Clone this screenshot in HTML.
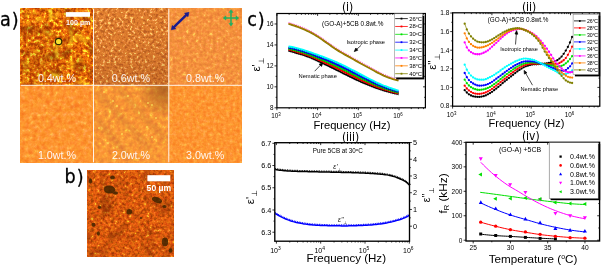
<!DOCTYPE html>
<html><head><meta charset="utf-8"><title>figure</title>
<style>html,body{margin:0;padding:0;background:#fff;}svg{display:block;}</style>
</head><body>
<svg width="602" height="267" viewBox="0 0 602 267">
<rect width="602" height="267" fill="#fff"/>
<defs>
<filter id="t1" x="0" y="0" width="100%" height="100%" color-interpolation-filters="sRGB">
<feTurbulence type="fractalNoise" baseFrequency="0.3" numOctaves="3" seed="3" result="n"/>
<feColorMatrix type="matrix" values="2.800 0 0 0 -0.940  2.184 0.616 0 0 -0.940  2.800 0 0 0 -0.940  0 0 0 0 1"/>
<feComponentTransfer><feFuncR type="table" tableValues="0.722 0.746 0.771 0.796 0.821 0.846 0.871 0.885 0.900 0.915 0.930 0.945 0.953 0.960 0.968 0.976 0.983 0.990 0.996 0.998 1.000"/><feFuncG type="table" tableValues="0.235 0.256 0.277 0.298 0.319 0.340 0.361 0.383 0.405 0.427 0.449 0.471 0.496 0.522 0.547 0.573 0.624 0.714 0.804 0.876 0.949"/><feFuncB type="table" tableValues="0.016 0.018 0.021 0.024 0.026 0.029 0.031 0.035 0.038 0.041 0.044 0.047 0.050 0.054 0.057 0.061 0.071 0.090 0.110 0.153 0.196"/></feComponentTransfer>
</filter>
<filter id="t2" x="0" y="0" width="100%" height="100%" color-interpolation-filters="sRGB">
<feTurbulence type="fractalNoise" baseFrequency="0.36" numOctaves="3" seed="7" result="n"/>
<feColorMatrix type="matrix" values="2.300 0 0 0 -0.650  2.070 0.230 0 0 -0.650  2.300 0 0 0 -0.650  0 0 0 0 1"/>
<feComponentTransfer><feFuncR type="table" tableValues="0.745 0.761 0.776 0.792 0.808 0.824 0.839 0.855 0.863 0.870 0.878 0.886 0.894 0.901 0.912 0.928 0.944 0.960 0.973 0.987 1.000"/><feFuncG type="table" tableValues="0.369 0.383 0.398 0.412 0.427 0.441 0.456 0.471 0.478 0.486 0.494 0.501 0.509 0.517 0.536 0.571 0.607 0.648 0.709 0.770 0.831"/><feFuncB type="table" tableValues="0.141 0.146 0.150 0.155 0.159 0.164 0.168 0.173 0.176 0.180 0.183 0.187 0.190 0.194 0.207 0.234 0.261 0.292 0.338 0.385 0.431"/></feComponentTransfer>
</filter>
<filter id="t3" x="0" y="0" width="100%" height="100%" color-interpolation-filters="sRGB">
<feTurbulence type="fractalNoise" baseFrequency="0.3" numOctaves="3" seed="11" result="n"/>
<feColorMatrix type="matrix" values="1.900 0 0 0 -0.450  1.235 0.665 0 0 -0.450  1.900 0 0 0 -0.450  0 0 0 0 1"/>
<feComponentTransfer><feFuncR type="table" tableValues="0.910 0.915 0.921 0.926 0.932 0.937 0.943 0.948 0.954 0.959 0.965 0.968 0.971 0.975 0.978 0.982 0.985 0.988 0.992 0.996 1.000"/><feFuncG type="table" tableValues="0.486 0.495 0.503 0.511 0.519 0.527 0.536 0.544 0.552 0.560 0.569 0.583 0.597 0.611 0.625 0.639 0.653 0.667 0.716 0.766 0.816"/><feFuncB type="table" tableValues="0.212 0.214 0.216 0.219 0.221 0.224 0.226 0.228 0.231 0.233 0.235 0.242 0.249 0.255 0.262 0.269 0.276 0.282 0.306 0.329 0.353"/></feComponentTransfer>
</filter>
<filter id="t4" x="0" y="0" width="100%" height="100%" color-interpolation-filters="sRGB">
<feTurbulence type="fractalNoise" baseFrequency="0.24" numOctaves="3" seed="5" result="n"/>
<feColorMatrix type="matrix" values="1.900 0 0 0 -0.450  1.235 0.665 0 0 -0.450  1.900 0 0 0 -0.450  0 0 0 0 1"/>
<feComponentTransfer><feFuncR type="table" tableValues="0.976 0.978 0.980 0.982 0.984 0.986 0.988 0.990 0.992 0.994 0.996 0.997 0.997 0.998 0.999 0.999 1.000 1.000 1.000 1.000 1.000"/><feFuncG type="table" tableValues="0.486 0.496 0.506 0.516 0.525 0.535 0.545 0.555 0.565 0.575 0.584 0.597 0.609 0.622 0.634 0.646 0.659 0.688 0.718 0.747 0.776"/><feFuncB type="table" tableValues="0.133 0.139 0.144 0.150 0.155 0.161 0.166 0.172 0.177 0.183 0.188 0.196 0.204 0.212 0.220 0.227 0.235 0.255 0.275 0.294 0.314"/></feComponentTransfer>
</filter>
<filter id="t5" x="0" y="0" width="100%" height="100%" color-interpolation-filters="sRGB">
<feTurbulence type="fractalNoise" baseFrequency="0.24" numOctaves="3" seed="9" result="n"/>
<feColorMatrix type="matrix" values="1.900 0 0 0 -0.450  1.235 0.665 0 0 -0.450  1.900 0 0 0 -0.450  0 0 0 0 1"/>
<feComponentTransfer><feFuncR type="table" tableValues="0.925 0.931 0.937 0.943 0.949 0.955 0.961 0.967 0.973 0.978 0.984 0.987 0.990 0.992 0.995 0.997 1.000 1.000 1.000 1.000 1.000"/><feFuncG type="table" tableValues="0.502 0.511 0.521 0.530 0.540 0.549 0.558 0.568 0.577 0.587 0.596 0.609 0.622 0.635 0.648 0.661 0.675 0.714 0.753 0.792 0.831"/><feFuncB type="table" tableValues="0.204 0.204 0.204 0.204 0.204 0.204 0.204 0.204 0.204 0.204 0.204 0.208 0.212 0.216 0.220 0.224 0.227 0.239 0.251 0.263 0.275"/></feComponentTransfer>
</filter>
<filter id="t6" x="0" y="0" width="100%" height="100%" color-interpolation-filters="sRGB">
<feTurbulence type="fractalNoise" baseFrequency="0.3" numOctaves="3" seed="13" result="n"/>
<feColorMatrix type="matrix" values="1.900 0 0 0 -0.450  1.235 0.665 0 0 -0.450  1.900 0 0 0 -0.450  0 0 0 0 1"/>
<feComponentTransfer><feFuncR type="table" tableValues="0.980 0.982 0.984 0.985 0.987 0.988 0.990 0.991 0.993 0.995 0.996 0.997 0.997 0.998 0.999 0.999 1.000 1.000 1.000 1.000 1.000"/><feFuncG type="table" tableValues="0.494 0.503 0.512 0.521 0.530 0.539 0.548 0.557 0.566 0.575 0.584 0.595 0.607 0.618 0.629 0.640 0.651 0.673 0.694 0.716 0.737"/><feFuncB type="table" tableValues="0.141 0.146 0.151 0.155 0.160 0.165 0.169 0.174 0.179 0.184 0.188 0.196 0.204 0.212 0.220 0.227 0.235 0.249 0.263 0.276 0.290"/></feComponentTransfer>
</filter>
<filter id="tb" x="0" y="0" width="100%" height="100%" color-interpolation-filters="sRGB">
<feTurbulence type="fractalNoise" baseFrequency="0.34" numOctaves="3" seed="21" result="n"/>
<feColorMatrix type="matrix" values="1.900 0 0 0 -0.450  1.330 0.570 0 0 -0.450  1.900 0 0 0 -0.450  0 0 0 0 1"/>
<feComponentTransfer><feFuncR type="table" tableValues="0.647 0.669 0.692 0.714 0.736 0.759 0.781 0.804 0.826 0.848 0.871 0.882 0.894 0.906 0.918 0.929 0.941 0.954 0.967 0.981 0.996"/><feFuncG type="table" tableValues="0.204 0.219 0.234 0.249 0.264 0.278 0.293 0.308 0.323 0.338 0.353 0.373 0.392 0.412 0.431 0.451 0.471 0.536 0.601 0.694 0.804"/><feFuncB type="table" tableValues="0.024 0.027 0.030 0.033 0.036 0.039 0.042 0.045 0.049 0.052 0.055 0.058 0.060 0.063 0.065 0.068 0.071 0.087 0.103 0.133 0.173"/></feComponentTransfer>
</filter>
<filter id="lf1" x="0" y="0" width="100%" height="100%" color-interpolation-filters="sRGB"><feTurbulence type="fractalNoise" baseFrequency="0.08" numOctaves="2" seed="5"/><feColorMatrix type="matrix" values="0 0 0 0 0.42  0 0 0 0 0.14  0 0 0 0 0  1.8 0 0 0 -0.92"/></filter>
<filter id="lf1y" x="0" y="0" width="100%" height="100%" color-interpolation-filters="sRGB"><feTurbulence type="fractalNoise" baseFrequency="0.09" numOctaves="2" seed="17"/><feColorMatrix type="matrix" values="0 0 0 0 1  0 0 0 0 0.78  0 0 0 0 0.1  0 2.6 0 0 -1.5"/></filter>
<filter id="lfb" x="0" y="0" width="100%" height="100%" color-interpolation-filters="sRGB"><feTurbulence type="fractalNoise" baseFrequency="0.07" numOctaves="2" seed="8"/><feColorMatrix type="matrix" values="0 0 0 0 0.4  0 0 0 0 0.12  0 0 0 0 0  1.4 0 0 0 -0.72"/></filter>
<filter id="bl1" x="-50%" y="-50%" width="200%" height="200%"><feGaussianBlur stdDeviation="0.9"/></filter>
<filter id="bl2" x="-50%" y="-50%" width="200%" height="200%"><feGaussianBlur stdDeviation="2.2"/></filter>
<filter id="bl05" x="-50%" y="-50%" width="200%" height="200%"><feGaussianBlur stdDeviation="0.5"/></filter>
<linearGradient id="g2" x1="0" y1="0" x2="0.25" y2="1"><stop offset="0" stop-color="#7a3410" stop-opacity="0"/><stop offset="0.5" stop-color="#7a3410" stop-opacity="0.03"/><stop offset="1" stop-color="#7a3410" stop-opacity="0.18"/></linearGradient>
<radialGradient id="g5" cx="0.93" cy="0.07" r="0.36"><stop offset="0" stop-color="#8a4a18" stop-opacity="0.6"/><stop offset="0.6" stop-color="#8a4a18" stop-opacity="0.25"/><stop offset="1" stop-color="#8a4a18" stop-opacity="0"/></radialGradient>
<radialGradient id="g1" cx="0.25" cy="0.7" r="0.5"><stop offset="0" stop-color="#6a2a00" stop-opacity="0.18"/><stop offset="1" stop-color="#6a2a00" stop-opacity="0"/></radialGradient>
<clipPath id="c1"><rect x="20.7" y="8.7" width="72.8" height="76.6"/></clipPath>
<clipPath id="c5"><rect x="93.5" y="85.3" width="75.3" height="77"/></clipPath>
<clipPath id="c4"><rect x="20.7" y="85.3" width="72.8" height="77"/></clipPath>
<clipPath id="cb"><rect x="87.2" y="170.7" width="86.8" height="86.2"/></clipPath>
</defs>
<rect x="20.7" y="8.7" width="72.8" height="76.6" fill="#e08020" filter="url(#t1)"/>
<rect x="93.5" y="8.7" width="75.3" height="76.6" fill="#e08020" filter="url(#t2)"/>
<rect x="168.8" y="8.7" width="73.1" height="76.6" fill="#e08020" filter="url(#t3)"/>
<rect x="20.7" y="85.3" width="72.8" height="77" fill="#e08020" filter="url(#t4)"/>
<rect x="93.5" y="85.3" width="75.3" height="77" fill="#e08020" filter="url(#t5)"/>
<rect x="168.8" y="85.3" width="73.1" height="77" fill="#e08020" filter="url(#t6)"/>
<g clip-path="url(#c1)">
<rect x="20.7" y="8.7" width="72.8" height="76.6" filter="url(#lf1)"/>
<rect x="20.7" y="8.7" width="72.8" height="76.6" filter="url(#lf1y)"/>
<rect x="20.7" y="8.7" width="72.8" height="76.6" fill="url(#g1)"/>
<g filter="url(#bl1)" fill="none" stroke="#ffe628" stroke-linecap="round" opacity="0.8">
<path d="M49.5 9 L51 14 L50 19" stroke-width="2.6"/>
<path d="M70.5 30 L71.8 36 L70.8 45" stroke-width="2.0"/>
<path d="M57.5 45 L56 52 L57 58" stroke-width="2.0"/>
<path d="M53 74.5 L57 76.5" stroke-width="3.4"/>
<path d="M27 22 L29.5 24 M36 50 L38 52 M80 58 L82 61 M44 31 L46 33 M33 12 L35 13 M62 66 L64 68 M84 40 L85.5 43 M25 70 L27 71" stroke-width="1.6"/>
</g></g>
<rect x="93.5" y="8.7" width="75.3" height="76.6" fill="url(#g2)"/>
<g clip-path="url(#c4)"><g filter="url(#bl1)" fill="#e86a20" opacity="0.6"><circle cx="40.3" cy="95.2" r="2.2"/><circle cx="72.2" cy="107" r="2"/><circle cx="57.5" cy="111" r="1.6"/></g></g>
<g clip-path="url(#c5)">
<g filter="url(#bl2)" stroke="#a86030" stroke-width="5" opacity="0.22" fill="none"><path d="M98 92 L150 150"/><path d="M118 88 L166 140"/><path d="M96 118 L128 156"/></g>
<rect x="93.5" y="85.3" width="75.3" height="77" fill="url(#g5)"/>
<g filter="url(#bl05)" fill="#fff060" opacity="0.75"><circle cx="113" cy="101" r="0.95"/><circle cx="117" cy="106" r="0.95"/><circle cx="148" cy="103" r="0.95"/><circle cx="152" cy="105" r="0.95"/><circle cx="110" cy="112" r="0.95"/><circle cx="99" cy="128" r="0.95"/><circle cx="147" cy="127" r="0.95"/><circle cx="152" cy="137" r="0.95"/><circle cx="122" cy="134" r="0.95"/><circle cx="156" cy="118" r="0.95"/><circle cx="128" cy="96" r="0.95"/><circle cx="104" cy="92" r="0.95"/><circle cx="139" cy="113" r="0.95"/><circle cx="108" cy="143" r="0.95"/></g>
</g>
<g stroke="#fff" stroke-width="1" opacity="0.9">
<line x1="93.5" y1="8.7" x2="93.5" y2="162.3"/>
<line x1="168.8" y1="8.7" x2="168.8" y2="162.3"/>
<line x1="20.7" y1="85.3" x2="241.9" y2="85.3"/>
</g>
<rect x="65.8" y="12.1" width="24.2" height="4.7" fill="#fff"/>
<text x="78.2" y="25.4" font-size="7.1" text-anchor="middle" fill="#fff" font-weight="bold" font-family='"Liberation Sans", sans-serif' >100 µm</text>
<circle cx="58.6" cy="41.5" r="3.2" fill="#f6e030" stroke="#2a2806" stroke-width="1.2"/>
<g stroke="#1c1c8e" fill="#1c1c8e" stroke-width="2.5"><line x1="173.4" y1="27.7" x2="186.9" y2="14.4"/>
<path d="M171.3 29.8 L172.3 25.4 L175.8 28.8 Z" stroke-width="0.6"/><path d="M189.0 12.3 L188.0 16.7 L184.5 13.3 Z" stroke-width="0.6"/></g>
<g stroke="#20b062" fill="#20b062" stroke-width="1.5"><line x1="224.5" y1="18" x2="237.5" y2="18"/><line x1="231" y1="11.2" x2="231" y2="24.8"/>
<path d="M223 18 L226 15.8 L226 20.2 Z M239 18 L236 15.8 L236 20.2 Z M231 9.6 L228.8 12.6 L233.2 12.6 Z M231 26.2 L228.8 23.2 L233.2 23.2 Z" stroke-width="0.3"/></g>
<text x="37.9" y="82.3" font-size="10.7" text-anchor="start" fill="#fff" font-weight="normal" font-family='"Liberation Sans", sans-serif' textLength="38.2" lengthAdjust="spacingAndGlyphs" opacity="0.92">0.4wt.%</text>
<text x="111.8" y="82.3" font-size="10.7" text-anchor="start" fill="#fff" font-weight="normal" font-family='"Liberation Sans", sans-serif' textLength="38.2" lengthAdjust="spacingAndGlyphs" opacity="0.92">0.6wt.%</text>
<text x="186" y="82.3" font-size="10.7" text-anchor="start" fill="#fff" font-weight="normal" font-family='"Liberation Sans", sans-serif' textLength="38.2" lengthAdjust="spacingAndGlyphs" opacity="0.92">0.8wt.%</text>
<text x="37.9" y="159" font-size="10.7" text-anchor="start" fill="#fff" font-weight="normal" font-family='"Liberation Sans", sans-serif' textLength="38.2" lengthAdjust="spacingAndGlyphs" opacity="0.92">1.0wt.%</text>
<text x="111.9" y="159" font-size="10.7" text-anchor="start" fill="#fff" font-weight="normal" font-family='"Liberation Sans", sans-serif' textLength="38.2" lengthAdjust="spacingAndGlyphs" opacity="0.92">2.0wt.%</text>
<text x="186" y="159" font-size="10.7" text-anchor="start" fill="#fff" font-weight="normal" font-family='"Liberation Sans", sans-serif' textLength="38.2" lengthAdjust="spacingAndGlyphs" opacity="0.92">3.0wt.%</text>
<rect x="87.2" y="170.7" width="86.8" height="86.2" fill="#c86a10" filter="url(#tb)"/>
<rect x="87.2" y="170.7" width="86.8" height="86.2" filter="url(#lfb)"/>
<g clip-path="url(#cb)"><g fill="#3a2206" opacity="0.82" filter="url(#bl05)">
<ellipse cx="90.5" cy="181" rx="1.6" ry="2.8" transform="rotate(0 90.5 181)"/>
<ellipse cx="109.5" cy="189.5" rx="5.8" ry="4.0" transform="rotate(8 109.5 189.5)"/>
<ellipse cx="112.5" cy="177.5" rx="2.4" ry="2.0" transform="rotate(0 112.5 177.5)"/>
<ellipse cx="115.5" cy="193" rx="2.6" ry="1.8" transform="rotate(0 115.5 193)"/>
<ellipse cx="157" cy="200" rx="5.4" ry="2.8" transform="rotate(20 157 200)"/>
<ellipse cx="164.5" cy="206.5" rx="2" ry="1.6" transform="rotate(0 164.5 206.5)"/>
<ellipse cx="129.3" cy="211.7" rx="2.8" ry="2.8" transform="rotate(0 129.3 211.7)"/>
<ellipse cx="93.5" cy="224.7" rx="2.0" ry="2.0" transform="rotate(0 93.5 224.7)"/>
<ellipse cx="98.4" cy="233.5" rx="1.5" ry="2.2" transform="rotate(0 98.4 233.5)"/>
<ellipse cx="165" cy="242" rx="3.2" ry="4.4" transform="rotate(0 165 242)"/>
<ellipse cx="170.5" cy="250.5" rx="2" ry="2.2" transform="rotate(0 170.5 250.5)"/>
<ellipse cx="99.4" cy="207.5" rx="1.8" ry="1.4" transform="rotate(0 99.4 207.5)"/>
<ellipse cx="141" cy="218" rx="1.1" ry="1.1" transform="rotate(0 141 218)"/>
</g></g>
<rect x="147.4" y="175.2" width="22.9" height="6.1" fill="#fff"/>
<text x="158.9" y="190.8" font-size="8.4" text-anchor="middle" fill="#fff" font-weight="bold" font-family='"Liberation Sans", sans-serif' textLength="24.6" lengthAdjust="spacingAndGlyphs">50 µm</text>
<text transform="translate(0,25.7) scale(0.9,1)" font-size="19.6" text-anchor="start" fill="#000" font-family='"DejaVu Sans", sans-serif' stroke="#000" stroke-width="0.3">a<tspan dy="1" dx="1">)</tspan></text>
<text transform="translate(64.6,183) scale(0.9,1)" font-size="19.6" text-anchor="start" fill="#000" font-family='"DejaVu Sans", sans-serif' stroke="#000" stroke-width="0.3">b<tspan dy="1" dx="1">)</tspan></text>
<text transform="translate(247.2,26.2) scale(0.9,1)" font-size="19.6" text-anchor="start" fill="#000" font-family='"DejaVu Sans", sans-serif' stroke="#000" stroke-width="0.3">c<tspan dy="1" dx="1">)</tspan></text>
<path d="M288.5 50.6 L290.36 51.18 L292.23 51.73 L294.09 52.28 L295.96 52.81 L297.82 53.36 L299.69 53.91 L301.55 54.47 L303.42 55.06 L305.28 55.68 L307.14 56.34 L309.01 57.04 L310.87 57.8 L312.74 58.6 L314.6 59.45 L316.47 60.32 L318.33 61.21 L320.19 62.09 L322.06 62.97 L323.92 63.84 L325.79 64.71 L327.65 65.59 L329.52 66.48 L331.38 67.38 L333.25 68.3 L335.11 69.23 L336.97 70.17 L338.84 71.11 L340.7 72.05 L342.57 72.99 L344.43 73.92 L346.3 74.84 L348.16 75.76 L350.03 76.67 L351.89 77.58 L353.75 78.48 L355.62 79.37 L357.48 80.24 L359.35 81.1 L361.21 81.94 L363.08 82.76 L364.94 83.55 L366.81 84.33 L368.67 85.08 L370.53 85.82 L372.4 86.54 L374.26 87.23 L376.13 87.91 L377.99 88.56 L379.86 89.19 L381.72 89.8 L383.58 90.38 L385.45 90.93 L387.31 91.47 L389.18 91.97 L391.04 92.46 L392.91 92.92 L394.77 93.37 L396.64 93.79 L398.5 94.2" stroke="#000000" stroke-width="1.7" fill="none"/>
<path d="M288.5 51.5 L290.36 52.08 L292.23 52.63 L294.09 53.18 L295.96 53.71 L297.82 54.26 L299.69 54.81 L301.55 55.37 L303.42 55.96 L305.28 56.58 L307.14 57.24 L309.01 57.94 L310.87 58.7 L312.74 59.5 L314.6 60.35 L316.47 61.22 L318.33 62.11 L320.19 62.99 L322.06 63.87 L323.92 64.74 L325.79 65.61 L327.65 66.49 L329.52 67.38 L331.38 68.28 L333.25 69.2 L335.11 70.13 L336.97 71.07 L338.84 72.01 L340.7 72.95 L342.57 73.89 L344.43 74.82 L346.3 75.74 L348.16 76.66 L350.03 77.57 L351.89 78.48 L353.75 79.38 L355.62 80.27 L357.48 81.14 L359.35 82 L361.21 82.84 L363.08 83.66 L364.94 84.45 L366.81 85.23 L368.67 85.98 L370.53 86.72 L372.4 87.44 L374.26 88.13 L376.13 88.81 L377.99 89.46 L379.86 90.09 L381.72 90.7 L383.58 91.28 L385.45 91.83 L387.31 92.37 L389.18 92.87 L391.04 93.36 L392.91 93.82 L394.77 94.27 L396.64 94.69 L398.5 95.1" stroke="#000" stroke-width="0.9" stroke-dasharray="0.7 1.3" fill="none" opacity="0.5"/>
<path d="M288.5 49.6 L290.36 50.09 L292.23 50.58 L294.09 51.08 L295.96 51.59 L297.82 52.12 L299.69 52.66 L301.55 53.22 L303.42 53.81 L305.28 54.42 L307.14 55.07 L309.01 55.76 L310.87 56.49 L312.74 57.26 L314.6 58.05 L316.47 58.87 L318.33 59.7 L320.19 60.54 L322.06 61.36 L323.92 62.19 L325.79 63.02 L327.65 63.85 L329.52 64.7 L331.38 65.57 L333.25 66.45 L335.11 67.35 L336.97 68.26 L338.84 69.18 L340.7 70.1 L342.57 71.02 L344.43 71.95 L346.3 72.87 L348.16 73.79 L350.03 74.72 L351.89 75.64 L353.75 76.56 L355.62 77.47 L357.48 78.38 L359.35 79.27 L361.21 80.15 L363.08 81 L364.94 81.84 L366.81 82.66 L368.67 83.47 L370.53 84.26 L372.4 85.03 L374.26 85.78 L376.13 86.51 L377.99 87.23 L379.86 87.91 L381.72 88.56 L383.58 89.19 L385.45 89.79 L387.31 90.36 L389.18 90.91 L391.04 91.43 L392.91 91.94 L394.77 92.42 L396.64 92.89 L398.5 93.35" stroke="#ff0000" stroke-width="2.1" fill="none"/>
<path d="M288.5 50.5 L290.36 50.99 L292.23 51.48 L294.09 51.98 L295.96 52.49 L297.82 53.02 L299.69 53.56 L301.55 54.12 L303.42 54.71 L305.28 55.32 L307.14 55.97 L309.01 56.66 L310.87 57.39 L312.74 58.16 L314.6 58.95 L316.47 59.77 L318.33 60.6 L320.19 61.44 L322.06 62.26 L323.92 63.09 L325.79 63.92 L327.65 64.75 L329.52 65.6 L331.38 66.47 L333.25 67.35 L335.11 68.25 L336.97 69.16 L338.84 70.08 L340.7 71 L342.57 71.92 L344.43 72.85 L346.3 73.77 L348.16 74.69 L350.03 75.62 L351.89 76.54 L353.75 77.46 L355.62 78.37 L357.48 79.28 L359.35 80.17 L361.21 81.05 L363.08 81.9 L364.94 82.74 L366.81 83.56 L368.67 84.37 L370.53 85.16 L372.4 85.93 L374.26 86.68 L376.13 87.41 L377.99 88.13 L379.86 88.81 L381.72 89.46 L383.58 90.09 L385.45 90.69 L387.31 91.26 L389.18 91.81 L391.04 92.33 L392.91 92.84 L394.77 93.32 L396.64 93.79 L398.5 94.25" stroke="#000" stroke-width="0.9" stroke-dasharray="0.7 1.3" fill="none" opacity="0.5"/>
<path d="M288.5 48.6 L290.36 49.01 L292.23 49.44 L294.09 49.89 L295.96 50.37 L297.82 50.88 L299.69 51.41 L301.55 51.97 L303.42 52.55 L305.28 53.17 L307.14 53.81 L309.01 54.48 L310.87 55.18 L312.74 55.91 L314.6 56.66 L316.47 57.43 L318.33 58.2 L320.19 58.98 L322.06 59.76 L323.92 60.53 L325.79 61.32 L327.65 62.11 L329.52 62.92 L331.38 63.75 L333.25 64.6 L335.11 65.47 L336.97 66.35 L338.84 67.25 L340.7 68.15 L342.57 69.06 L344.43 69.98 L346.3 70.9 L348.16 71.83 L350.03 72.76 L351.89 73.7 L353.75 74.64 L355.62 75.58 L357.48 76.51 L359.35 77.44 L361.21 78.35 L363.08 79.25 L364.94 80.13 L366.81 81 L368.67 81.85 L370.53 82.69 L372.4 83.52 L374.26 84.33 L376.13 85.12 L377.99 85.89 L379.86 86.63 L381.72 87.33 L383.58 88 L385.45 88.64 L387.31 89.25 L389.18 89.84 L391.04 90.4 L392.91 90.95 L394.77 91.48 L396.64 91.99 L398.5 92.5" stroke="#00e000" stroke-width="2.1" fill="none"/>
<path d="M288.5 49.5 L290.36 49.91 L292.23 50.34 L294.09 50.79 L295.96 51.27 L297.82 51.78 L299.69 52.31 L301.55 52.87 L303.42 53.45 L305.28 54.07 L307.14 54.71 L309.01 55.38 L310.87 56.08 L312.74 56.81 L314.6 57.56 L316.47 58.33 L318.33 59.1 L320.19 59.88 L322.06 60.66 L323.92 61.43 L325.79 62.22 L327.65 63.01 L329.52 63.82 L331.38 64.65 L333.25 65.5 L335.11 66.37 L336.97 67.25 L338.84 68.15 L340.7 69.05 L342.57 69.96 L344.43 70.88 L346.3 71.8 L348.16 72.73 L350.03 73.66 L351.89 74.6 L353.75 75.54 L355.62 76.48 L357.48 77.41 L359.35 78.34 L361.21 79.25 L363.08 80.15 L364.94 81.03 L366.81 81.9 L368.67 82.75 L370.53 83.59 L372.4 84.42 L374.26 85.23 L376.13 86.02 L377.99 86.79 L379.86 87.53 L381.72 88.23 L383.58 88.9 L385.45 89.54 L387.31 90.15 L389.18 90.74 L391.04 91.3 L392.91 91.85 L394.77 92.38 L396.64 92.89 L398.5 93.4" stroke="#000" stroke-width="0.9" stroke-dasharray="0.7 1.3" fill="none" opacity="0.5"/>
<path d="M288.5 47.6 L290.36 47.92 L292.23 48.29 L294.09 48.7 L295.96 49.15 L297.82 49.64 L299.69 50.16 L301.55 50.71 L303.42 51.3 L305.28 51.91 L307.14 52.54 L309.01 53.2 L310.87 53.87 L312.74 54.56 L314.6 55.27 L316.47 55.98 L318.33 56.7 L320.19 57.43 L322.06 58.15 L323.92 58.88 L325.79 59.62 L327.65 60.37 L329.52 61.14 L331.38 61.93 L333.25 62.75 L335.11 63.59 L336.97 64.44 L338.84 65.31 L340.7 66.2 L342.57 67.1 L344.43 68.01 L346.3 68.93 L348.16 69.86 L350.03 70.81 L351.89 71.76 L353.75 72.72 L355.62 73.69 L357.48 74.65 L359.35 75.61 L361.21 76.56 L363.08 77.5 L364.94 78.42 L366.81 79.33 L368.67 80.24 L370.53 81.13 L372.4 82.01 L374.26 82.88 L376.13 83.73 L377.99 84.55 L379.86 85.34 L381.72 86.1 L383.58 86.81 L385.45 87.5 L387.31 88.15 L389.18 88.77 L391.04 89.37 L392.91 89.96 L394.77 90.53 L396.64 91.09 L398.5 91.65" stroke="#0000ff" stroke-width="2.1" fill="none"/>
<path d="M288.5 48.5 L290.36 48.82 L292.23 49.19 L294.09 49.6 L295.96 50.05 L297.82 50.54 L299.69 51.06 L301.55 51.61 L303.42 52.2 L305.28 52.81 L307.14 53.44 L309.01 54.1 L310.87 54.77 L312.74 55.46 L314.6 56.17 L316.47 56.88 L318.33 57.6 L320.19 58.33 L322.06 59.05 L323.92 59.78 L325.79 60.52 L327.65 61.27 L329.52 62.04 L331.38 62.83 L333.25 63.65 L335.11 64.49 L336.97 65.34 L338.84 66.21 L340.7 67.1 L342.57 68 L344.43 68.91 L346.3 69.83 L348.16 70.76 L350.03 71.71 L351.89 72.66 L353.75 73.62 L355.62 74.59 L357.48 75.55 L359.35 76.51 L361.21 77.46 L363.08 78.4 L364.94 79.32 L366.81 80.23 L368.67 81.14 L370.53 82.03 L372.4 82.91 L374.26 83.78 L376.13 84.63 L377.99 85.45 L379.86 86.24 L381.72 87 L383.58 87.71 L385.45 88.4 L387.31 89.05 L389.18 89.67 L391.04 90.27 L392.91 90.86 L394.77 91.43 L396.64 91.99 L398.5 92.55" stroke="#000" stroke-width="0.9" stroke-dasharray="0.7 1.3" fill="none" opacity="0.5"/>
<path d="M288.5 46.6 L290.36 46.84 L292.23 47.14 L294.09 47.51 L295.96 47.93 L297.82 48.4 L299.69 48.91 L301.55 49.46 L303.42 50.04 L305.28 50.65 L307.14 51.28 L309.01 51.92 L310.87 52.57 L312.74 53.22 L314.6 53.88 L316.47 54.54 L318.33 55.2 L320.19 55.87 L322.06 56.54 L323.92 57.23 L325.79 57.92 L327.65 58.63 L329.52 59.36 L331.38 60.12 L333.25 60.9 L335.11 61.71 L336.97 62.53 L338.84 63.38 L340.7 64.25 L342.57 65.13 L344.43 66.04 L346.3 66.96 L348.16 67.9 L350.03 68.85 L351.89 69.82 L353.75 70.8 L355.62 71.79 L357.48 72.79 L359.35 73.78 L361.21 74.76 L363.08 75.74 L364.94 76.71 L366.81 77.67 L368.67 78.62 L370.53 79.57 L372.4 80.5 L374.26 81.43 L376.13 82.33 L377.99 83.21 L379.86 84.06 L381.72 84.86 L383.58 85.63 L385.45 86.35 L387.31 87.04 L389.18 87.7 L391.04 88.35 L392.91 88.97 L394.77 89.59 L396.64 90.19 L398.5 90.8" stroke="#00ffff" stroke-width="2.1" fill="none"/>
<path d="M288.5 47.5 L290.36 47.74 L292.23 48.04 L294.09 48.41 L295.96 48.83 L297.82 49.3 L299.69 49.81 L301.55 50.36 L303.42 50.94 L305.28 51.55 L307.14 52.18 L309.01 52.82 L310.87 53.47 L312.74 54.12 L314.6 54.78 L316.47 55.44 L318.33 56.1 L320.19 56.77 L322.06 57.44 L323.92 58.13 L325.79 58.82 L327.65 59.53 L329.52 60.26 L331.38 61.02 L333.25 61.8 L335.11 62.61 L336.97 63.43 L338.84 64.28 L340.7 65.15 L342.57 66.03 L344.43 66.94 L346.3 67.86 L348.16 68.8 L350.03 69.75 L351.89 70.72 L353.75 71.7 L355.62 72.69 L357.48 73.69 L359.35 74.68 L361.21 75.66 L363.08 76.64 L364.94 77.61 L366.81 78.57 L368.67 79.52 L370.53 80.47 L372.4 81.4 L374.26 82.33 L376.13 83.23 L377.99 84.11 L379.86 84.96 L381.72 85.76 L383.58 86.53 L385.45 87.25 L387.31 87.94 L389.18 88.6 L391.04 89.25 L392.91 89.87 L394.77 90.49 L396.64 91.09 L398.5 91.7" stroke="#000" stroke-width="0.9" stroke-dasharray="0.7 1.3" fill="none" opacity="0.5"/>
<path d="M288.5 22.8 L290.36 23.36 L292.23 23.93 L294.09 24.53 L295.96 25.16 L297.82 25.81 L299.69 26.5 L301.55 27.23 L303.42 28 L305.28 28.81 L307.14 29.67 L309.01 30.58 L310.87 31.55 L312.74 32.58 L314.6 33.66 L316.47 34.79 L318.33 35.97 L320.19 37.2 L322.06 38.46 L323.92 39.76 L325.79 41.08 L327.65 42.41 L329.52 43.74 L331.38 45.05 L333.25 46.33 L335.11 47.58 L336.97 48.8 L338.84 49.97 L340.7 51.1 L342.57 52.19 L344.43 53.23 L346.3 54.26 L348.16 55.28 L350.03 56.31 L351.89 57.37 L353.75 58.43 L355.62 59.51 L357.48 60.58 L359.35 61.63 L361.21 62.67 L363.08 63.68 L364.94 64.68 L366.81 65.66 L368.67 66.65 L370.53 67.65 L372.4 68.66 L374.26 69.69 L376.13 70.71 L377.99 71.71 L379.86 72.68 L381.72 73.6 L383.58 74.46 L385.45 75.26 L387.31 76.01 L389.18 76.7 L391.04 77.35 L392.91 77.95 L394.77 78.51 L396.64 79.02 L398.5 79.5" stroke="#ff50c8" stroke-width="1.6" stroke-dasharray="1 1" fill="none"/>
<path d="M288.5 23.9 L290.36 24.46 L292.23 25.03 L294.09 25.63 L295.96 26.26 L297.82 26.91 L299.69 27.6 L301.55 28.33 L303.42 29.1 L305.28 29.91 L307.14 30.77 L309.01 31.68 L310.87 32.65 L312.74 33.68 L314.6 34.76 L316.47 35.89 L318.33 37.07 L320.19 38.3 L322.06 39.56 L323.92 40.86 L325.79 42.18 L327.65 43.51 L329.52 44.84 L331.38 46.15 L333.25 47.43 L335.11 48.68 L336.97 49.9 L338.84 51.07 L340.7 52.2 L342.57 53.29 L344.43 54.33 L346.3 55.36 L348.16 56.38 L350.03 57.41 L351.89 58.47 L353.75 59.53 L355.62 60.61 L357.48 61.68 L359.35 62.73 L361.21 63.77 L363.08 64.78 L364.94 65.78 L366.81 66.76 L368.67 67.75 L370.53 68.75 L372.4 69.76 L374.26 70.79 L376.13 71.81 L377.99 72.81 L379.86 73.78 L381.72 74.7 L383.58 75.56 L385.45 76.36 L387.31 77.11 L389.18 77.8 L391.04 78.45 L392.91 79.05 L394.77 79.61 L396.64 80.12 L398.5 80.6" stroke="#8a7a00" stroke-width="1.9" fill="none"/>
<path d="M288.5 23.5 L290.36 24.06 L292.23 24.63 L294.09 25.23 L295.96 25.86 L297.82 26.51 L299.69 27.2 L301.55 27.93 L303.42 28.7 L305.28 29.51 L307.14 30.37 L309.01 31.28 L310.87 32.25 L312.74 33.28 L314.6 34.36 L316.47 35.49 L318.33 36.67 L320.19 37.9 L322.06 39.16 L323.92 40.46 L325.79 41.78 L327.65 43.11 L329.52 44.44 L331.38 45.75 L333.25 47.03 L335.11 48.28 L336.97 49.5 L338.84 50.67 L340.7 51.8 L342.57 52.89 L344.43 53.93 L346.3 54.96 L348.16 55.98 L350.03 57.01 L351.89 58.07 L353.75 59.13 L355.62 60.21 L357.48 61.28 L359.35 62.33 L361.21 63.37 L363.08 64.38 L364.94 65.38 L366.81 66.36 L368.67 67.35 L370.53 68.35 L372.4 69.36 L374.26 70.39 L376.13 71.41 L377.99 72.41 L379.86 73.38 L381.72 74.3 L383.58 75.16 L385.45 75.96 L387.31 76.71 L389.18 77.4 L391.04 78.05 L392.91 78.65 L394.77 79.21 L396.64 79.72 L398.5 80.2" stroke="#ff8000" stroke-width="0.8" stroke-dasharray="0.8 1.2" fill="none" opacity="0.8"/>
<rect x="276.9" y="13.5" width="148.5" height="94.3" fill="none" stroke="#000" stroke-width="1.2"/>
<path d="M276.9 107.8 v2.4M317.6 107.8 v2.4M358.3 107.8 v2.4M399 107.8 v2.4" stroke="#000" stroke-width="0.8" fill="none"/>
<path d="M289.15 107.8 v1.3M296.32 107.8 v1.3M301.4 107.8 v1.3M305.35 107.8 v1.3M308.57 107.8 v1.3M311.3 107.8 v1.3M313.66 107.8 v1.3M315.74 107.8 v1.3M329.85 107.8 v1.3M337.02 107.8 v1.3M342.1 107.8 v1.3M346.05 107.8 v1.3M349.27 107.8 v1.3M352 107.8 v1.3M354.36 107.8 v1.3M356.44 107.8 v1.3M370.55 107.8 v1.3M377.72 107.8 v1.3M382.8 107.8 v1.3M386.75 107.8 v1.3M389.97 107.8 v1.3M392.7 107.8 v1.3M395.06 107.8 v1.3M397.14 107.8 v1.3M411.25 107.8 v1.3M418.42 107.8 v1.3M423.5 107.8 v1.3" stroke="#000" stroke-width="0.8" fill="none"/>
<path d="M276.9 13.5 v2.4M317.6 13.5 v2.4M358.3 13.5 v2.4M399 13.5 v2.4" stroke="#000" stroke-width="0.8" fill="none"/>
<path d="M289.15 13.5 v1.3M296.32 13.5 v1.3M301.4 13.5 v1.3M305.35 13.5 v1.3M308.57 13.5 v1.3M311.3 13.5 v1.3M313.66 13.5 v1.3M315.74 13.5 v1.3M329.85 13.5 v1.3M337.02 13.5 v1.3M342.1 13.5 v1.3M346.05 13.5 v1.3M349.27 13.5 v1.3M352 13.5 v1.3M354.36 13.5 v1.3M356.44 13.5 v1.3M370.55 13.5 v1.3M377.72 13.5 v1.3M382.8 13.5 v1.3M386.75 13.5 v1.3M389.97 13.5 v1.3M392.7 13.5 v1.3M395.06 13.5 v1.3M397.14 13.5 v1.3M411.25 13.5 v1.3M418.42 13.5 v1.3M423.5 13.5 v1.3" stroke="#000" stroke-width="0.8" fill="none"/>
<path d="M276.9 107.8 h-2.4M276.9 86.84 h-2.4M276.9 65.89 h-2.4M276.9 44.93 h-2.4M276.9 23.98 h-2.4" stroke="#000" stroke-width="0.8" fill="none"/>
<path d="M276.9 97.32 h-1.3M276.9 76.37 h-1.3M276.9 55.41 h-1.3M276.9 34.46 h-1.3" stroke="#000" stroke-width="0.8" fill="none"/>
<path d="M425.4 86.84 h-2.4M425.4 65.89 h-2.4M425.4 44.93 h-2.4M425.4 23.98 h-2.4" stroke="#000" stroke-width="0.8" fill="none"/>
<path d="M425.4 97.32 h-1.3M425.4 76.37 h-1.3M425.4 55.41 h-1.3M425.4 34.46 h-1.3" stroke="#000" stroke-width="0.8" fill="none"/>
<text x="273.5" y="110.1" font-size="6.3" text-anchor="end" fill="#000" font-weight="normal" font-family='"Liberation Sans", sans-serif' >8</text>
<text x="273.5" y="89.14" font-size="6.3" text-anchor="end" fill="#000" font-weight="normal" font-family='"Liberation Sans", sans-serif' >10</text>
<text x="273.5" y="68.19" font-size="6.3" text-anchor="end" fill="#000" font-weight="normal" font-family='"Liberation Sans", sans-serif' >12</text>
<text x="273.5" y="47.23" font-size="6.3" text-anchor="end" fill="#000" font-weight="normal" font-family='"Liberation Sans", sans-serif' >14</text>
<text x="273.5" y="26.28" font-size="6.3" text-anchor="end" fill="#000" font-weight="normal" font-family='"Liberation Sans", sans-serif' >16</text>
<text x="275.9" y="117.8" font-size="6.3" text-anchor="middle" font-family='"Liberation Sans", sans-serif'>10<tspan dy="-2.3" font-size="4.409999999999999">3</tspan></text>
<text x="316.6" y="117.8" font-size="6.3" text-anchor="middle" font-family='"Liberation Sans", sans-serif'>10<tspan dy="-2.3" font-size="4.409999999999999">4</tspan></text>
<text x="357.3" y="117.8" font-size="6.3" text-anchor="middle" font-family='"Liberation Sans", sans-serif'>10<tspan dy="-2.3" font-size="4.409999999999999">5</tspan></text>
<text x="398" y="117.8" font-size="6.3" text-anchor="middle" font-family='"Liberation Sans", sans-serif'>10<tspan dy="-2.3" font-size="4.409999999999999">6</tspan></text>
<text x="351.9" y="128.9" font-size="10.9" text-anchor="middle" fill="#000" font-weight="normal" font-family='"Liberation Sans", sans-serif' textLength="77" lengthAdjust="spacingAndGlyphs">Frequency (Hz)</text>
<text transform="translate(347.6,10.5) scale(0.9,1)" font-size="12" text-anchor="middle" fill="#000" font-family='"DejaVu Sans", sans-serif' >(i)</text>
<text x="322.1" y="26.4" font-size="6.4" text-anchor="start" fill="#000" font-weight="normal" font-family='"Liberation Sans", sans-serif' >(GO-A)+5CB 0.8wt.%</text>
<text x="346.4" y="43.7" font-size="5.7" text-anchor="start" fill="#000" font-weight="normal" font-family='"Liberation Sans", sans-serif' >Isotropic phase</text>
<text x="298.5" y="77.6" font-size="5.77" text-anchor="start" fill="#000" font-weight="normal" font-family='"Liberation Sans", sans-serif' >Nematic phase</text>
<g stroke="#000" stroke-width="0.7" fill="#000"><line x1="361" y1="45.4" x2="356.4" y2="49.6"/><path d="M354.3 51.6 L355.8 48.0 L357.8 50.2 Z"/>
<line x1="314.7" y1="71.2" x2="320.6" y2="65"/><path d="M322.6 62.9 L321.6 66.4 L319.2 64.2 Z"/></g>
<text transform="translate(259.9,71.6) rotate(-90)" font-size="11.5" font-family='"Liberation Sans", sans-serif'>ε'<tspan dy="3.6" font-size="7.6" font-family='"DejaVu Sans", sans-serif'>⊥</tspan></text>
<rect x="396.2" y="15.6" width="28.1" height="63.8" fill="#000"/>
<rect x="394.4" y="13.8" width="28" height="63.6" fill="#fff" stroke="#777" stroke-width="0.5"/>
<line x1="395.2" y1="18.6" x2="407.8" y2="18.6" stroke="#000000" stroke-width="0.8"/><rect x="400.6" y="17.7" width="1.8" height="1.8" fill="#000000"/>
<text x="409.2" y="20.6" font-size="5.9" font-family='"Liberation Sans", sans-serif'>26<tspan dy="-1.6" font-size="3.4">o</tspan><tspan dy="1.6">C</tspan></text>
<line x1="395.2" y1="26.47" x2="407.8" y2="26.47" stroke="#ff0000" stroke-width="0.8"/><rect x="400.6" y="25.57" width="1.8" height="1.8" fill="#ff0000"/>
<text x="409.2" y="28.47" font-size="5.9" font-family='"Liberation Sans", sans-serif'>28<tspan dy="-1.6" font-size="3.4">o</tspan><tspan dy="1.6">C</tspan></text>
<line x1="395.2" y1="34.34" x2="407.8" y2="34.34" stroke="#00e000" stroke-width="0.8"/><rect x="400.6" y="33.44" width="1.8" height="1.8" fill="#00e000"/>
<text x="409.2" y="36.34" font-size="5.9" font-family='"Liberation Sans", sans-serif'>30<tspan dy="-1.6" font-size="3.4">o</tspan><tspan dy="1.6">C</tspan></text>
<line x1="395.2" y1="42.21" x2="407.8" y2="42.21" stroke="#0000ff" stroke-width="0.8"/><rect x="400.6" y="41.31" width="1.8" height="1.8" fill="#0000ff"/>
<text x="409.2" y="44.21" font-size="5.9" font-family='"Liberation Sans", sans-serif'>32<tspan dy="-1.6" font-size="3.4">o</tspan><tspan dy="1.6">C</tspan></text>
<line x1="395.2" y1="50.08" x2="407.8" y2="50.08" stroke="#00ffff" stroke-width="0.8"/><rect x="400.6" y="49.18" width="1.8" height="1.8" fill="#00ffff"/>
<text x="409.2" y="52.08" font-size="5.9" font-family='"Liberation Sans", sans-serif'>34<tspan dy="-1.6" font-size="3.4">o</tspan><tspan dy="1.6">C</tspan></text>
<line x1="395.2" y1="57.95" x2="407.8" y2="57.95" stroke="#ff00ff" stroke-width="0.8"/><rect x="400.6" y="57.05" width="1.8" height="1.8" fill="#ff00ff"/>
<text x="409.2" y="59.95" font-size="5.9" font-family='"Liberation Sans", sans-serif'>36<tspan dy="-1.6" font-size="3.4">o</tspan><tspan dy="1.6">C</tspan></text>
<line x1="395.2" y1="65.82" x2="407.8" y2="65.82" stroke="#ff8000" stroke-width="0.8"/><rect x="400.6" y="64.92" width="1.8" height="1.8" fill="#ff8000"/>
<text x="409.2" y="67.82" font-size="5.9" font-family='"Liberation Sans", sans-serif'>38<tspan dy="-1.6" font-size="3.4">o</tspan><tspan dy="1.6">C</tspan></text>
<line x1="395.2" y1="73.69" x2="407.8" y2="73.69" stroke="#808000" stroke-width="0.8"/><rect x="400.6" y="72.79" width="1.8" height="1.8" fill="#808000"/>
<text x="409.2" y="75.69" font-size="5.9" font-family='"Liberation Sans", sans-serif'>40<tspan dy="-1.6" font-size="3.4">o</tspan><tspan dy="1.6">C</tspan></text>
<path d="M464.7 90.2 L466.81 92.52 L468.91 94.32 L471.02 95.49 L473.12 96.31 L475.23 96.68 L477.34 96.85 L479.44 96.89 L481.55 96.61 L483.65 96.14 L485.76 95.39 L487.86 94.34 L489.97 93.17 L492.08 91.79 L494.18 90.22 L496.29 88.56 L498.39 86.87 L500.5 85.06 L502.61 83.22 L504.71 81.44 L506.82 79.73 L508.92 78.04 L511.03 76.38 L513.14 74.73 L515.24 73.06 L517.35 71.44 L519.45 69.97 L521.56 68.57 L523.66 67.3 L525.77 66.36 L527.88 65.63 L529.98 65.02 L532.09 64.59 L534.19 64.37 L536.3 64.24 L538.41 64.13 L540.51 63.98 L542.62 63.79 L544.72 63.57 L546.83 63.29 L548.94 62.94 L551.04 62.48 L553.15 61.9 L555.25 61.18 L557.36 60.14 L559.46 58.58 L561.57 56.61 L563.68 53.85 L565.78 50.59 L567.89 46.93 L569.99 42.49 L572.1 37" stroke="#000000" stroke-width="0.7" fill="none"/>
<g fill="#000000"><circle cx="464.7" cy="90.2" r="1.15"/><circle cx="466.81" cy="92.52" r="1.15"/><circle cx="468.91" cy="94.32" r="1.15"/><circle cx="471.02" cy="95.49" r="1.15"/><circle cx="473.12" cy="96.31" r="1.15"/><circle cx="475.23" cy="96.68" r="1.15"/><circle cx="477.34" cy="96.85" r="1.15"/><circle cx="479.44" cy="96.89" r="1.15"/><circle cx="481.55" cy="96.61" r="1.15"/><circle cx="483.65" cy="96.14" r="1.15"/><circle cx="485.76" cy="95.39" r="1.15"/><circle cx="487.86" cy="94.34" r="1.15"/><circle cx="489.97" cy="93.17" r="1.15"/><circle cx="492.08" cy="91.79" r="1.15"/><circle cx="494.18" cy="90.22" r="1.15"/><circle cx="496.29" cy="88.56" r="1.15"/><circle cx="498.39" cy="86.87" r="1.15"/><circle cx="500.5" cy="85.06" r="1.15"/><circle cx="502.61" cy="83.22" r="1.15"/><circle cx="504.71" cy="81.44" r="1.15"/><circle cx="506.82" cy="79.73" r="1.15"/><circle cx="508.92" cy="78.04" r="1.15"/><circle cx="511.03" cy="76.38" r="1.15"/><circle cx="513.14" cy="74.73" r="1.15"/><circle cx="515.24" cy="73.06" r="1.15"/><circle cx="517.35" cy="71.44" r="1.15"/><circle cx="519.45" cy="69.97" r="1.15"/><circle cx="521.56" cy="68.57" r="1.15"/><circle cx="523.66" cy="67.3" r="1.15"/><circle cx="525.77" cy="66.36" r="1.15"/><circle cx="527.88" cy="65.63" r="1.15"/><circle cx="529.98" cy="65.02" r="1.15"/><circle cx="532.09" cy="64.59" r="1.15"/><circle cx="534.19" cy="64.37" r="1.15"/><circle cx="536.3" cy="64.24" r="1.15"/><circle cx="538.41" cy="64.13" r="1.15"/><circle cx="540.51" cy="63.98" r="1.15"/><circle cx="542.62" cy="63.79" r="1.15"/><circle cx="544.72" cy="63.57" r="1.15"/><circle cx="546.83" cy="63.29" r="1.15"/><circle cx="548.94" cy="62.94" r="1.15"/><circle cx="551.04" cy="62.48" r="1.15"/><circle cx="553.15" cy="61.9" r="1.15"/><circle cx="555.25" cy="61.18" r="1.15"/><circle cx="557.36" cy="60.14" r="1.15"/><circle cx="559.46" cy="58.58" r="1.15"/><circle cx="561.57" cy="56.61" r="1.15"/><circle cx="563.68" cy="53.85" r="1.15"/><circle cx="565.78" cy="50.59" r="1.15"/><circle cx="567.89" cy="46.93" r="1.15"/><circle cx="569.99" cy="42.49" r="1.15"/><circle cx="572.1" cy="37" r="1.15"/></g>
<path d="M464.7 85.7 L466.81 88.5 L468.91 90.43 L471.02 91.87 L473.12 93.07 L475.23 93.61 L477.34 93.84 L479.44 93.89 L481.55 93.61 L483.65 93.14 L485.76 92.42 L487.86 91.42 L489.97 90.28 L492.08 88.87 L494.18 87.24 L496.29 85.56 L498.39 83.9 L500.5 82.19 L502.61 80.46 L504.71 78.75 L506.82 77.03 L508.92 75.32 L511.03 73.66 L513.14 72.06 L515.24 70.47 L517.35 68.97 L519.45 67.67 L521.56 66.5 L523.66 65.48 L525.77 64.81 L527.88 64.32 L529.98 63.93 L532.09 63.72 L534.19 63.71 L536.3 63.73 L538.41 63.76 L540.51 63.8 L542.62 63.86 L544.72 63.92 L546.83 63.98 L548.94 64.05 L551.04 64.12 L553.15 64.18 L555.25 64.2 L557.36 63.9 L559.46 63.01 L561.57 61.74 L563.68 60.23 L565.78 58.1 L567.89 54.83 L569.99 51.05 L572.1 46.7" stroke="#ff0000" stroke-width="0.7" fill="none"/>
<g fill="#ff0000"><circle cx="464.7" cy="85.7" r="1.15"/><circle cx="466.81" cy="88.5" r="1.15"/><circle cx="468.91" cy="90.43" r="1.15"/><circle cx="471.02" cy="91.87" r="1.15"/><circle cx="473.12" cy="93.07" r="1.15"/><circle cx="475.23" cy="93.61" r="1.15"/><circle cx="477.34" cy="93.84" r="1.15"/><circle cx="479.44" cy="93.89" r="1.15"/><circle cx="481.55" cy="93.61" r="1.15"/><circle cx="483.65" cy="93.14" r="1.15"/><circle cx="485.76" cy="92.42" r="1.15"/><circle cx="487.86" cy="91.42" r="1.15"/><circle cx="489.97" cy="90.28" r="1.15"/><circle cx="492.08" cy="88.87" r="1.15"/><circle cx="494.18" cy="87.24" r="1.15"/><circle cx="496.29" cy="85.56" r="1.15"/><circle cx="498.39" cy="83.9" r="1.15"/><circle cx="500.5" cy="82.19" r="1.15"/><circle cx="502.61" cy="80.46" r="1.15"/><circle cx="504.71" cy="78.75" r="1.15"/><circle cx="506.82" cy="77.03" r="1.15"/><circle cx="508.92" cy="75.32" r="1.15"/><circle cx="511.03" cy="73.66" r="1.15"/><circle cx="513.14" cy="72.06" r="1.15"/><circle cx="515.24" cy="70.47" r="1.15"/><circle cx="517.35" cy="68.97" r="1.15"/><circle cx="519.45" cy="67.67" r="1.15"/><circle cx="521.56" cy="66.5" r="1.15"/><circle cx="523.66" cy="65.48" r="1.15"/><circle cx="525.77" cy="64.81" r="1.15"/><circle cx="527.88" cy="64.32" r="1.15"/><circle cx="529.98" cy="63.93" r="1.15"/><circle cx="532.09" cy="63.72" r="1.15"/><circle cx="534.19" cy="63.71" r="1.15"/><circle cx="536.3" cy="63.73" r="1.15"/><circle cx="538.41" cy="63.76" r="1.15"/><circle cx="540.51" cy="63.8" r="1.15"/><circle cx="542.62" cy="63.86" r="1.15"/><circle cx="544.72" cy="63.92" r="1.15"/><circle cx="546.83" cy="63.98" r="1.15"/><circle cx="548.94" cy="64.05" r="1.15"/><circle cx="551.04" cy="64.12" r="1.15"/><circle cx="553.15" cy="64.18" r="1.15"/><circle cx="555.25" cy="64.2" r="1.15"/><circle cx="557.36" cy="63.9" r="1.15"/><circle cx="559.46" cy="63.01" r="1.15"/><circle cx="561.57" cy="61.74" r="1.15"/><circle cx="563.68" cy="60.23" r="1.15"/><circle cx="565.78" cy="58.1" r="1.15"/><circle cx="567.89" cy="54.83" r="1.15"/><circle cx="569.99" cy="51.05" r="1.15"/><circle cx="572.1" cy="46.7" r="1.15"/></g>
<path d="M464.7 79.7 L466.81 83.15 L468.91 85.49 L471.02 87.14 L473.12 88.44 L475.23 89.22 L477.34 89.74 L479.44 89.89 L481.55 89.7 L483.65 89.35 L485.76 88.77 L487.86 87.91 L489.97 86.92 L492.08 85.64 L494.18 84.13 L496.29 82.53 L498.39 80.93 L500.5 79.21 L502.61 77.45 L504.71 75.76 L506.82 74.1 L508.92 72.47 L511.03 70.92 L513.14 69.43 L515.24 67.97 L517.35 66.61 L519.45 65.47 L521.56 64.48 L523.66 63.63 L525.77 63.14 L527.88 62.85 L529.98 62.62 L532.09 62.51 L534.19 62.57 L536.3 62.86 L538.41 63.27 L540.51 63.63 L542.62 63.95 L544.72 64.26 L546.83 64.6 L548.94 64.99 L551.04 65.43 L553.15 65.86 L555.25 66.24 L557.36 66.58 L559.46 66.38 L561.57 65.86 L563.68 64.91 L565.78 63.36 L567.89 61.51 L569.99 59.06 L572.1 56.2" stroke="#00e000" stroke-width="0.7" fill="none"/>
<g fill="#00e000"><circle cx="464.7" cy="79.7" r="1.15"/><circle cx="466.81" cy="83.15" r="1.15"/><circle cx="468.91" cy="85.49" r="1.15"/><circle cx="471.02" cy="87.14" r="1.15"/><circle cx="473.12" cy="88.44" r="1.15"/><circle cx="475.23" cy="89.22" r="1.15"/><circle cx="477.34" cy="89.74" r="1.15"/><circle cx="479.44" cy="89.89" r="1.15"/><circle cx="481.55" cy="89.7" r="1.15"/><circle cx="483.65" cy="89.35" r="1.15"/><circle cx="485.76" cy="88.77" r="1.15"/><circle cx="487.86" cy="87.91" r="1.15"/><circle cx="489.97" cy="86.92" r="1.15"/><circle cx="492.08" cy="85.64" r="1.15"/><circle cx="494.18" cy="84.13" r="1.15"/><circle cx="496.29" cy="82.53" r="1.15"/><circle cx="498.39" cy="80.93" r="1.15"/><circle cx="500.5" cy="79.21" r="1.15"/><circle cx="502.61" cy="77.45" r="1.15"/><circle cx="504.71" cy="75.76" r="1.15"/><circle cx="506.82" cy="74.1" r="1.15"/><circle cx="508.92" cy="72.47" r="1.15"/><circle cx="511.03" cy="70.92" r="1.15"/><circle cx="513.14" cy="69.43" r="1.15"/><circle cx="515.24" cy="67.97" r="1.15"/><circle cx="517.35" cy="66.61" r="1.15"/><circle cx="519.45" cy="65.47" r="1.15"/><circle cx="521.56" cy="64.48" r="1.15"/><circle cx="523.66" cy="63.63" r="1.15"/><circle cx="525.77" cy="63.14" r="1.15"/><circle cx="527.88" cy="62.85" r="1.15"/><circle cx="529.98" cy="62.62" r="1.15"/><circle cx="532.09" cy="62.51" r="1.15"/><circle cx="534.19" cy="62.57" r="1.15"/><circle cx="536.3" cy="62.86" r="1.15"/><circle cx="538.41" cy="63.27" r="1.15"/><circle cx="540.51" cy="63.63" r="1.15"/><circle cx="542.62" cy="63.95" r="1.15"/><circle cx="544.72" cy="64.26" r="1.15"/><circle cx="546.83" cy="64.6" r="1.15"/><circle cx="548.94" cy="64.99" r="1.15"/><circle cx="551.04" cy="65.43" r="1.15"/><circle cx="553.15" cy="65.86" r="1.15"/><circle cx="555.25" cy="66.24" r="1.15"/><circle cx="557.36" cy="66.58" r="1.15"/><circle cx="559.46" cy="66.38" r="1.15"/><circle cx="561.57" cy="65.86" r="1.15"/><circle cx="563.68" cy="64.91" r="1.15"/><circle cx="565.78" cy="63.36" r="1.15"/><circle cx="567.89" cy="61.51" r="1.15"/><circle cx="569.99" cy="59.06" r="1.15"/><circle cx="572.1" cy="56.2" r="1.15"/></g>
<path d="M464.7 73 L466.81 77.2 L468.92 80.09 L471.02 82.05 L473.13 83.5 L475.24 84.54 L477.35 85.41 L479.45 85.7 L481.56 85.58 L483.67 85.37 L485.78 84.86 L487.89 84.06 L489.99 83.12 L492.1 81.84 L494.21 80.3 L496.32 78.7 L498.43 77.17 L500.53 75.59 L502.64 74 L504.75 72.44 L506.86 70.87 L508.96 69.3 L511.07 67.83 L513.18 66.51 L515.29 65.25 L517.4 64.11 L519.5 63.16 L521.61 62.27 L523.72 61.53 L525.83 61.3 L527.94 61.33 L530.04 61.38 L532.15 61.47 L534.26 61.67 L536.37 62.17 L538.47 62.83 L540.58 63.48 L542.69 64.14 L544.8 64.86 L546.91 65.62 L549.01 66.42 L551.12 67.28 L553.23 68.14 L555.34 68.92 L557.45 69.67 L559.55 70.3 L561.66 70.76 L563.77 70.82 L565.88 70.04 L567.98 68.26 L570.09 66.32 L572.2 63.4" stroke="#0000ff" stroke-width="0.7" fill="none"/>
<g fill="#0000ff"><circle cx="464.7" cy="73" r="1.15"/><circle cx="466.81" cy="77.2" r="1.15"/><circle cx="468.92" cy="80.09" r="1.15"/><circle cx="471.02" cy="82.05" r="1.15"/><circle cx="473.13" cy="83.5" r="1.15"/><circle cx="475.24" cy="84.54" r="1.15"/><circle cx="477.35" cy="85.41" r="1.15"/><circle cx="479.45" cy="85.7" r="1.15"/><circle cx="481.56" cy="85.58" r="1.15"/><circle cx="483.67" cy="85.37" r="1.15"/><circle cx="485.78" cy="84.86" r="1.15"/><circle cx="487.89" cy="84.06" r="1.15"/><circle cx="489.99" cy="83.12" r="1.15"/><circle cx="492.1" cy="81.84" r="1.15"/><circle cx="494.21" cy="80.3" r="1.15"/><circle cx="496.32" cy="78.7" r="1.15"/><circle cx="498.43" cy="77.17" r="1.15"/><circle cx="500.53" cy="75.59" r="1.15"/><circle cx="502.64" cy="74" r="1.15"/><circle cx="504.75" cy="72.44" r="1.15"/><circle cx="506.86" cy="70.87" r="1.15"/><circle cx="508.96" cy="69.3" r="1.15"/><circle cx="511.07" cy="67.83" r="1.15"/><circle cx="513.18" cy="66.51" r="1.15"/><circle cx="515.29" cy="65.25" r="1.15"/><circle cx="517.4" cy="64.11" r="1.15"/><circle cx="519.5" cy="63.16" r="1.15"/><circle cx="521.61" cy="62.27" r="1.15"/><circle cx="523.72" cy="61.53" r="1.15"/><circle cx="525.83" cy="61.3" r="1.15"/><circle cx="527.94" cy="61.33" r="1.15"/><circle cx="530.04" cy="61.38" r="1.15"/><circle cx="532.15" cy="61.47" r="1.15"/><circle cx="534.26" cy="61.67" r="1.15"/><circle cx="536.37" cy="62.17" r="1.15"/><circle cx="538.47" cy="62.83" r="1.15"/><circle cx="540.58" cy="63.48" r="1.15"/><circle cx="542.69" cy="64.14" r="1.15"/><circle cx="544.8" cy="64.86" r="1.15"/><circle cx="546.91" cy="65.62" r="1.15"/><circle cx="549.01" cy="66.42" r="1.15"/><circle cx="551.12" cy="67.28" r="1.15"/><circle cx="553.23" cy="68.14" r="1.15"/><circle cx="555.34" cy="68.92" r="1.15"/><circle cx="557.45" cy="69.67" r="1.15"/><circle cx="559.55" cy="70.3" r="1.15"/><circle cx="561.66" cy="70.76" r="1.15"/><circle cx="563.77" cy="70.82" r="1.15"/><circle cx="565.88" cy="70.04" r="1.15"/><circle cx="567.98" cy="68.26" r="1.15"/><circle cx="570.09" cy="66.32" r="1.15"/><circle cx="572.2" cy="63.4" r="1.15"/></g>
<path d="M464.7 64.7 L466.81 69.64 L468.92 73.14 L471.02 75.56 L473.13 77.38 L475.24 78.55 L477.35 79.42 L479.45 79.7 L481.56 79.7 L483.67 79.69 L485.78 79.19 L487.89 78.23 L489.99 77.22 L492.1 76.1 L494.21 74.81 L496.32 73.44 L498.43 72.03 L500.53 70.48 L502.64 68.92 L504.75 67.47 L506.86 66.12 L508.96 64.83 L511.07 63.64 L513.18 62.54 L515.29 61.49 L517.4 60.54 L519.5 59.77 L521.61 59.05 L523.72 58.55 L525.83 58.55 L527.94 58.79 L530.04 59.18 L532.15 59.65 L534.26 60.22 L536.37 61.08 L538.47 62.09 L540.58 63.14 L542.69 64.28 L544.8 65.51 L546.91 66.73 L549.01 67.84 L551.12 68.9 L553.23 69.96 L555.34 71.09 L557.45 72.36 L559.55 73.55 L561.66 74.3 L563.77 74.26 L565.88 74.06 L567.98 73.06 L570.09 71.84 L572.2 70.4" stroke="#00ffff" stroke-width="0.7" fill="none"/>
<g fill="#00ffff"><circle cx="464.7" cy="64.7" r="1.15"/><circle cx="466.81" cy="69.64" r="1.15"/><circle cx="468.92" cy="73.14" r="1.15"/><circle cx="471.02" cy="75.56" r="1.15"/><circle cx="473.13" cy="77.38" r="1.15"/><circle cx="475.24" cy="78.55" r="1.15"/><circle cx="477.35" cy="79.42" r="1.15"/><circle cx="479.45" cy="79.7" r="1.15"/><circle cx="481.56" cy="79.7" r="1.15"/><circle cx="483.67" cy="79.69" r="1.15"/><circle cx="485.78" cy="79.19" r="1.15"/><circle cx="487.89" cy="78.23" r="1.15"/><circle cx="489.99" cy="77.22" r="1.15"/><circle cx="492.1" cy="76.1" r="1.15"/><circle cx="494.21" cy="74.81" r="1.15"/><circle cx="496.32" cy="73.44" r="1.15"/><circle cx="498.43" cy="72.03" r="1.15"/><circle cx="500.53" cy="70.48" r="1.15"/><circle cx="502.64" cy="68.92" r="1.15"/><circle cx="504.75" cy="67.47" r="1.15"/><circle cx="506.86" cy="66.12" r="1.15"/><circle cx="508.96" cy="64.83" r="1.15"/><circle cx="511.07" cy="63.64" r="1.15"/><circle cx="513.18" cy="62.54" r="1.15"/><circle cx="515.29" cy="61.49" r="1.15"/><circle cx="517.4" cy="60.54" r="1.15"/><circle cx="519.5" cy="59.77" r="1.15"/><circle cx="521.61" cy="59.05" r="1.15"/><circle cx="523.72" cy="58.55" r="1.15"/><circle cx="525.83" cy="58.55" r="1.15"/><circle cx="527.94" cy="58.79" r="1.15"/><circle cx="530.04" cy="59.18" r="1.15"/><circle cx="532.15" cy="59.65" r="1.15"/><circle cx="534.26" cy="60.22" r="1.15"/><circle cx="536.37" cy="61.08" r="1.15"/><circle cx="538.47" cy="62.09" r="1.15"/><circle cx="540.58" cy="63.14" r="1.15"/><circle cx="542.69" cy="64.28" r="1.15"/><circle cx="544.8" cy="65.51" r="1.15"/><circle cx="546.91" cy="66.73" r="1.15"/><circle cx="549.01" cy="67.84" r="1.15"/><circle cx="551.12" cy="68.9" r="1.15"/><circle cx="553.23" cy="69.96" r="1.15"/><circle cx="555.34" cy="71.09" r="1.15"/><circle cx="557.45" cy="72.36" r="1.15"/><circle cx="559.55" cy="73.55" r="1.15"/><circle cx="561.66" cy="74.3" r="1.15"/><circle cx="563.77" cy="74.26" r="1.15"/><circle cx="565.88" cy="74.06" r="1.15"/><circle cx="567.98" cy="73.06" r="1.15"/><circle cx="570.09" cy="71.84" r="1.15"/><circle cx="572.2" cy="70.4" r="1.15"/></g>
<path d="M464.7 42.4 L466.81 47.39 L468.92 50.41 L471.02 52.21 L473.13 53.38 L475.24 54.03 L477.35 54.25 L479.45 54.23 L481.56 53.56 L483.67 52.74 L485.78 51.71 L487.89 50.38 L489.99 48.57 L492.1 46.67 L494.21 44.76 L496.32 42.8 L498.43 40.81 L500.53 38.72 L502.64 36.73 L504.75 35 L506.86 33.41 L508.96 32.08 L511.07 31.05 L513.18 30.18 L515.29 29.55 L517.4 29.11 L519.5 28.9 L521.61 29.09 L523.72 29.58 L525.83 30.22 L527.94 30.93 L530.04 31.9 L532.15 33.12 L534.26 34.53 L536.37 36.22 L538.47 38.32 L540.58 40.66 L542.69 43.12 L544.8 45.81 L546.91 48.71 L549.01 51.73 L551.12 54.97 L553.23 58.38 L555.34 61.45 L557.45 64.09 L559.55 66.4 L561.66 68.45 L563.77 70.32 L565.88 71.56 L567.98 72.22 L570.09 72.38 L572.2 72" stroke="#ff00ff" stroke-width="0.7" fill="none"/>
<g fill="#ff00ff"><circle cx="464.7" cy="42.4" r="1.15"/><circle cx="466.81" cy="47.39" r="1.15"/><circle cx="468.92" cy="50.41" r="1.15"/><circle cx="471.02" cy="52.21" r="1.15"/><circle cx="473.13" cy="53.38" r="1.15"/><circle cx="475.24" cy="54.03" r="1.15"/><circle cx="477.35" cy="54.25" r="1.15"/><circle cx="479.45" cy="54.23" r="1.15"/><circle cx="481.56" cy="53.56" r="1.15"/><circle cx="483.67" cy="52.74" r="1.15"/><circle cx="485.78" cy="51.71" r="1.15"/><circle cx="487.89" cy="50.38" r="1.15"/><circle cx="489.99" cy="48.57" r="1.15"/><circle cx="492.1" cy="46.67" r="1.15"/><circle cx="494.21" cy="44.76" r="1.15"/><circle cx="496.32" cy="42.8" r="1.15"/><circle cx="498.43" cy="40.81" r="1.15"/><circle cx="500.53" cy="38.72" r="1.15"/><circle cx="502.64" cy="36.73" r="1.15"/><circle cx="504.75" cy="35" r="1.15"/><circle cx="506.86" cy="33.41" r="1.15"/><circle cx="508.96" cy="32.08" r="1.15"/><circle cx="511.07" cy="31.05" r="1.15"/><circle cx="513.18" cy="30.18" r="1.15"/><circle cx="515.29" cy="29.55" r="1.15"/><circle cx="517.4" cy="29.11" r="1.15"/><circle cx="519.5" cy="28.9" r="1.15"/><circle cx="521.61" cy="29.09" r="1.15"/><circle cx="523.72" cy="29.58" r="1.15"/><circle cx="525.83" cy="30.22" r="1.15"/><circle cx="527.94" cy="30.93" r="1.15"/><circle cx="530.04" cy="31.9" r="1.15"/><circle cx="532.15" cy="33.12" r="1.15"/><circle cx="534.26" cy="34.53" r="1.15"/><circle cx="536.37" cy="36.22" r="1.15"/><circle cx="538.47" cy="38.32" r="1.15"/><circle cx="540.58" cy="40.66" r="1.15"/><circle cx="542.69" cy="43.12" r="1.15"/><circle cx="544.8" cy="45.81" r="1.15"/><circle cx="546.91" cy="48.71" r="1.15"/><circle cx="549.01" cy="51.73" r="1.15"/><circle cx="551.12" cy="54.97" r="1.15"/><circle cx="553.23" cy="58.38" r="1.15"/><circle cx="555.34" cy="61.45" r="1.15"/><circle cx="557.45" cy="64.09" r="1.15"/><circle cx="559.55" cy="66.4" r="1.15"/><circle cx="561.66" cy="68.45" r="1.15"/><circle cx="563.77" cy="70.32" r="1.15"/><circle cx="565.88" cy="71.56" r="1.15"/><circle cx="567.98" cy="72.22" r="1.15"/><circle cx="570.09" cy="72.38" r="1.15"/><circle cx="572.2" cy="72" r="1.15"/></g>
<path d="M464.7 33.3 L466.81 38.41 L468.92 41.89 L471.02 44.19 L473.13 45.81 L475.24 46.88 L477.35 47.54 L479.45 47.67 L481.56 47.38 L483.67 46.92 L485.78 46.2 L487.89 45.3 L489.99 44.12 L492.1 42.82 L494.21 41.4 L496.32 39.88 L498.43 38.28 L500.53 36.52 L502.64 34.81 L504.75 33.36 L506.86 32.03 L508.96 30.93 L511.07 30.11 L513.18 29.44 L515.29 28.94 L517.4 28.58 L519.5 28.55 L521.61 28.94 L523.72 29.59 L525.83 30.34 L527.94 31.21 L530.04 32.36 L532.15 33.73 L534.26 35.29 L536.37 37.21 L538.47 39.49 L540.58 42.06 L542.69 45.11 L544.8 48.76 L546.91 52.33 L549.01 55.67 L551.12 58.95 L553.23 62.14 L555.34 65.18 L557.45 68.09 L559.55 70.52 L561.66 72.51 L563.77 74.22 L565.88 75.63 L567.98 76.81 L570.09 77.41 L572.2 77.6" stroke="#ff8000" stroke-width="0.7" fill="none"/>
<g fill="#ff8000"><circle cx="464.7" cy="33.3" r="1.15"/><circle cx="466.81" cy="38.41" r="1.15"/><circle cx="468.92" cy="41.89" r="1.15"/><circle cx="471.02" cy="44.19" r="1.15"/><circle cx="473.13" cy="45.81" r="1.15"/><circle cx="475.24" cy="46.88" r="1.15"/><circle cx="477.35" cy="47.54" r="1.15"/><circle cx="479.45" cy="47.67" r="1.15"/><circle cx="481.56" cy="47.38" r="1.15"/><circle cx="483.67" cy="46.92" r="1.15"/><circle cx="485.78" cy="46.2" r="1.15"/><circle cx="487.89" cy="45.3" r="1.15"/><circle cx="489.99" cy="44.12" r="1.15"/><circle cx="492.1" cy="42.82" r="1.15"/><circle cx="494.21" cy="41.4" r="1.15"/><circle cx="496.32" cy="39.88" r="1.15"/><circle cx="498.43" cy="38.28" r="1.15"/><circle cx="500.53" cy="36.52" r="1.15"/><circle cx="502.64" cy="34.81" r="1.15"/><circle cx="504.75" cy="33.36" r="1.15"/><circle cx="506.86" cy="32.03" r="1.15"/><circle cx="508.96" cy="30.93" r="1.15"/><circle cx="511.07" cy="30.11" r="1.15"/><circle cx="513.18" cy="29.44" r="1.15"/><circle cx="515.29" cy="28.94" r="1.15"/><circle cx="517.4" cy="28.58" r="1.15"/><circle cx="519.5" cy="28.55" r="1.15"/><circle cx="521.61" cy="28.94" r="1.15"/><circle cx="523.72" cy="29.59" r="1.15"/><circle cx="525.83" cy="30.34" r="1.15"/><circle cx="527.94" cy="31.21" r="1.15"/><circle cx="530.04" cy="32.36" r="1.15"/><circle cx="532.15" cy="33.73" r="1.15"/><circle cx="534.26" cy="35.29" r="1.15"/><circle cx="536.37" cy="37.21" r="1.15"/><circle cx="538.47" cy="39.49" r="1.15"/><circle cx="540.58" cy="42.06" r="1.15"/><circle cx="542.69" cy="45.11" r="1.15"/><circle cx="544.8" cy="48.76" r="1.15"/><circle cx="546.91" cy="52.33" r="1.15"/><circle cx="549.01" cy="55.67" r="1.15"/><circle cx="551.12" cy="58.95" r="1.15"/><circle cx="553.23" cy="62.14" r="1.15"/><circle cx="555.34" cy="65.18" r="1.15"/><circle cx="557.45" cy="68.09" r="1.15"/><circle cx="559.55" cy="70.52" r="1.15"/><circle cx="561.66" cy="72.51" r="1.15"/><circle cx="563.77" cy="74.22" r="1.15"/><circle cx="565.88" cy="75.63" r="1.15"/><circle cx="567.98" cy="76.81" r="1.15"/><circle cx="570.09" cy="77.41" r="1.15"/><circle cx="572.2" cy="77.6" r="1.15"/></g>
<path d="M464.7 23.7 L466.81 29.44 L468.91 33.56 L471.02 36.41 L473.12 38.65 L475.23 40.35 L477.34 41.55 L479.44 42.12 L481.55 42.37 L483.65 42.34 L485.76 41.98 L487.86 41.45 L489.97 40.5 L492.08 39.39 L494.18 38.14 L496.29 36.77 L498.39 35.43 L500.5 34.03 L502.61 32.7 L504.71 31.57 L506.82 30.53 L508.92 29.68 L511.03 29.09 L513.14 28.64 L515.24 28.32 L517.35 28.11 L519.45 28.28 L521.56 28.87 L523.66 29.67 L525.77 30.52 L527.88 31.57 L529.98 32.87 L532.09 34.38 L534.19 36.15 L536.3 38.32 L538.41 40.85 L540.51 43.77 L542.62 47.68 L544.72 51.53 L546.83 54.78 L548.94 57.9 L551.04 61.1 L553.15 64.29 L555.25 67.36 L557.36 70.4 L559.46 73.3 L561.57 75.87 L563.68 78.32 L565.78 80.39 L567.89 81.65 L569.99 82.56 L572.1 83" stroke="#808000" stroke-width="0.7" fill="none"/>
<g fill="#808000"><circle cx="464.7" cy="23.7" r="1.15"/><circle cx="466.81" cy="29.44" r="1.15"/><circle cx="468.91" cy="33.56" r="1.15"/><circle cx="471.02" cy="36.41" r="1.15"/><circle cx="473.12" cy="38.65" r="1.15"/><circle cx="475.23" cy="40.35" r="1.15"/><circle cx="477.34" cy="41.55" r="1.15"/><circle cx="479.44" cy="42.12" r="1.15"/><circle cx="481.55" cy="42.37" r="1.15"/><circle cx="483.65" cy="42.34" r="1.15"/><circle cx="485.76" cy="41.98" r="1.15"/><circle cx="487.86" cy="41.45" r="1.15"/><circle cx="489.97" cy="40.5" r="1.15"/><circle cx="492.08" cy="39.39" r="1.15"/><circle cx="494.18" cy="38.14" r="1.15"/><circle cx="496.29" cy="36.77" r="1.15"/><circle cx="498.39" cy="35.43" r="1.15"/><circle cx="500.5" cy="34.03" r="1.15"/><circle cx="502.61" cy="32.7" r="1.15"/><circle cx="504.71" cy="31.57" r="1.15"/><circle cx="506.82" cy="30.53" r="1.15"/><circle cx="508.92" cy="29.68" r="1.15"/><circle cx="511.03" cy="29.09" r="1.15"/><circle cx="513.14" cy="28.64" r="1.15"/><circle cx="515.24" cy="28.32" r="1.15"/><circle cx="517.35" cy="28.11" r="1.15"/><circle cx="519.45" cy="28.28" r="1.15"/><circle cx="521.56" cy="28.87" r="1.15"/><circle cx="523.66" cy="29.67" r="1.15"/><circle cx="525.77" cy="30.52" r="1.15"/><circle cx="527.88" cy="31.57" r="1.15"/><circle cx="529.98" cy="32.87" r="1.15"/><circle cx="532.09" cy="34.38" r="1.15"/><circle cx="534.19" cy="36.15" r="1.15"/><circle cx="536.3" cy="38.32" r="1.15"/><circle cx="538.41" cy="40.85" r="1.15"/><circle cx="540.51" cy="43.77" r="1.15"/><circle cx="542.62" cy="47.68" r="1.15"/><circle cx="544.72" cy="51.53" r="1.15"/><circle cx="546.83" cy="54.78" r="1.15"/><circle cx="548.94" cy="57.9" r="1.15"/><circle cx="551.04" cy="61.1" r="1.15"/><circle cx="553.15" cy="64.29" r="1.15"/><circle cx="555.25" cy="67.36" r="1.15"/><circle cx="557.36" cy="70.4" r="1.15"/><circle cx="559.46" cy="73.3" r="1.15"/><circle cx="561.57" cy="75.87" r="1.15"/><circle cx="563.68" cy="78.32" r="1.15"/><circle cx="565.78" cy="80.39" r="1.15"/><circle cx="567.89" cy="81.65" r="1.15"/><circle cx="569.99" cy="82.56" r="1.15"/><circle cx="572.1" cy="83" r="1.15"/></g>
<rect x="452.6" y="12.8" width="147.2" height="93.4" fill="none" stroke="#000" stroke-width="1.25"/>
<path d="M452.6 106.2 v2.4M491.9 106.2 v2.4M531.2 106.2 v2.4M570.5 106.2 v2.4" stroke="#000" stroke-width="0.8" fill="none"/>
<path d="M464.43 106.2 v1.3M471.35 106.2 v1.3M476.26 106.2 v1.3M480.07 106.2 v1.3M483.18 106.2 v1.3M485.81 106.2 v1.3M488.09 106.2 v1.3M490.1 106.2 v1.3M503.73 106.2 v1.3M510.65 106.2 v1.3M515.56 106.2 v1.3M519.37 106.2 v1.3M522.48 106.2 v1.3M525.11 106.2 v1.3M527.39 106.2 v1.3M529.4 106.2 v1.3M543.03 106.2 v1.3M549.95 106.2 v1.3M554.86 106.2 v1.3M558.67 106.2 v1.3M561.78 106.2 v1.3M564.41 106.2 v1.3M566.69 106.2 v1.3M568.7 106.2 v1.3M582.33 106.2 v1.3M589.25 106.2 v1.3M594.16 106.2 v1.3M597.97 106.2 v1.3" stroke="#000" stroke-width="0.8" fill="none"/>
<path d="M452.6 12.8 v2.4M491.9 12.8 v2.4M531.2 12.8 v2.4M570.5 12.8 v2.4" stroke="#000" stroke-width="0.8" fill="none"/>
<path d="M464.43 12.8 v1.3M471.35 12.8 v1.3M476.26 12.8 v1.3M480.07 12.8 v1.3M483.18 12.8 v1.3M485.81 12.8 v1.3M488.09 12.8 v1.3M490.1 12.8 v1.3M503.73 12.8 v1.3M510.65 12.8 v1.3M515.56 12.8 v1.3M519.37 12.8 v1.3M522.48 12.8 v1.3M525.11 12.8 v1.3M527.39 12.8 v1.3M529.4 12.8 v1.3M543.03 12.8 v1.3M549.95 12.8 v1.3M554.86 12.8 v1.3M558.67 12.8 v1.3M561.78 12.8 v1.3M564.41 12.8 v1.3M566.69 12.8 v1.3M568.7 12.8 v1.3M582.33 12.8 v1.3M589.25 12.8 v1.3M594.16 12.8 v1.3M597.97 12.8 v1.3" stroke="#000" stroke-width="0.8" fill="none"/>
<path d="M452.6 106 h-2.4M452.6 87.4 h-2.4M452.6 68.8 h-2.4M452.6 50.2 h-2.4M452.6 31.6 h-2.4M452.6 13 h-2.4" stroke="#000" stroke-width="0.8" fill="none"/>
<path d="M452.6 96.7 h-1.3M452.6 78.1 h-1.3M452.6 59.5 h-1.3M452.6 40.9 h-1.3M452.6 22.3 h-1.3" stroke="#000" stroke-width="0.8" fill="none"/>
<path d="M599.8 87.4 h-2.4M599.8 68.8 h-2.4M599.8 50.2 h-2.4M599.8 31.6 h-2.4" stroke="#000" stroke-width="0.8" fill="none"/>
<path d="M599.8 96.7 h-1.3M599.8 78.1 h-1.3M599.8 59.5 h-1.3M599.8 40.9 h-1.3M599.8 22.3 h-1.3" stroke="#000" stroke-width="0.8" fill="none"/>
<text x="449.4" y="108.3" font-size="6.5" text-anchor="end" fill="#000" font-weight="normal" font-family='"Liberation Sans", sans-serif' >0.8</text>
<text x="449.4" y="89.7" font-size="6.5" text-anchor="end" fill="#000" font-weight="normal" font-family='"Liberation Sans", sans-serif' >1.0</text>
<text x="449.4" y="71.1" font-size="6.5" text-anchor="end" fill="#000" font-weight="normal" font-family='"Liberation Sans", sans-serif' >1.2</text>
<text x="449.4" y="52.5" font-size="6.5" text-anchor="end" fill="#000" font-weight="normal" font-family='"Liberation Sans", sans-serif' >1.4</text>
<text x="449.4" y="33.9" font-size="6.5" text-anchor="end" fill="#000" font-weight="normal" font-family='"Liberation Sans", sans-serif' >1.6</text>
<text x="449.4" y="15.3" font-size="6.5" text-anchor="end" fill="#000" font-weight="normal" font-family='"Liberation Sans", sans-serif' >1.8</text>
<text x="451.6" y="116.8" font-size="6.3" text-anchor="middle" font-family='"Liberation Sans", sans-serif'>10<tspan dy="-2.3" font-size="4.409999999999999">3</tspan></text>
<text x="490.9" y="116.8" font-size="6.3" text-anchor="middle" font-family='"Liberation Sans", sans-serif'>10<tspan dy="-2.3" font-size="4.409999999999999">4</tspan></text>
<text x="530.2" y="116.8" font-size="6.3" text-anchor="middle" font-family='"Liberation Sans", sans-serif'>10<tspan dy="-2.3" font-size="4.409999999999999">5</tspan></text>
<text x="569.5" y="116.8" font-size="6.3" text-anchor="middle" font-family='"Liberation Sans", sans-serif'>10<tspan dy="-2.3" font-size="4.409999999999999">6</tspan></text>
<text x="526.5" y="127.3" font-size="10.9" text-anchor="middle" fill="#000" font-weight="normal" font-family='"Liberation Sans", sans-serif' textLength="76" lengthAdjust="spacingAndGlyphs">Frequency (Hz)</text>
<text transform="translate(529.1,10.5) scale(0.9,1)" font-size="12" text-anchor="middle" fill="#000" font-family='"DejaVu Sans", sans-serif' >(ii)</text>
<text x="487.7" y="22.4" font-size="6.35" text-anchor="start" fill="#000" font-weight="normal" font-family='"Liberation Sans", sans-serif' >(GO-A)+5CB 0.8wt.%</text>
<text x="500.2" y="50.8" font-size="5.55" text-anchor="start" fill="#000" font-weight="normal" font-family='"Liberation Sans", sans-serif' >Isotropic phase</text>
<text x="520.5" y="90.7" font-size="5.65" text-anchor="start" fill="#000" font-weight="normal" font-family='"Liberation Sans", sans-serif' >Nematic phase</text>
<g stroke="#000" stroke-width="0.7" fill="#000"><line x1="515.5" y1="44.5" x2="516.4" y2="33.5"/><path d="M516.6 30.6 L517.8 34.2 L515 34 Z"/>
<line x1="532.5" y1="85.2" x2="525.4" y2="72.8"/><path d="M524.1 70.4 L526.9 72.7 L524.4 74.1 Z"/></g>
<text transform="translate(436,69.8) rotate(-90)" font-size="11.5" font-family='"Liberation Sans", sans-serif'>ε''<tspan dy="3.6" font-size="7.6" font-family='"DejaVu Sans", sans-serif'>⊥</tspan></text>
<rect x="574.9" y="15.8" width="25.3" height="60.6" fill="#000"/>
<rect x="573.1" y="14.4" width="25.3" height="60.2" fill="#fff" stroke="#777" stroke-width="0.5"/>
<line x1="574" y1="20.9" x2="585.6" y2="20.9" stroke="#000000" stroke-width="0.8"/><circle cx="579.8" cy="20.9" r="1" fill="#000000"/>
<text x="586.9" y="22.7" font-size="5.2" font-family='"Liberation Sans", sans-serif'>26<tspan dy="-1.5" font-size="3">o</tspan><tspan dy="1.5">C</tspan></text>
<line x1="574" y1="27.9" x2="585.6" y2="27.9" stroke="#ff0000" stroke-width="0.8"/><circle cx="579.8" cy="27.9" r="1" fill="#ff0000"/>
<text x="586.9" y="29.7" font-size="5.2" font-family='"Liberation Sans", sans-serif'>28<tspan dy="-1.5" font-size="3">o</tspan><tspan dy="1.5">C</tspan></text>
<line x1="574" y1="34.9" x2="585.6" y2="34.9" stroke="#00e000" stroke-width="0.8"/><circle cx="579.8" cy="34.9" r="1" fill="#00e000"/>
<text x="586.9" y="36.7" font-size="5.2" font-family='"Liberation Sans", sans-serif'>30<tspan dy="-1.5" font-size="3">o</tspan><tspan dy="1.5">C</tspan></text>
<line x1="574" y1="41.9" x2="585.6" y2="41.9" stroke="#0000ff" stroke-width="0.8"/><circle cx="579.8" cy="41.9" r="1" fill="#0000ff"/>
<text x="586.9" y="43.7" font-size="5.2" font-family='"Liberation Sans", sans-serif'>32<tspan dy="-1.5" font-size="3">o</tspan><tspan dy="1.5">C</tspan></text>
<line x1="574" y1="48.9" x2="585.6" y2="48.9" stroke="#00ffff" stroke-width="0.8"/><circle cx="579.8" cy="48.9" r="1" fill="#00ffff"/>
<text x="586.9" y="50.7" font-size="5.2" font-family='"Liberation Sans", sans-serif'>34<tspan dy="-1.5" font-size="3">o</tspan><tspan dy="1.5">C</tspan></text>
<line x1="574" y1="55.9" x2="585.6" y2="55.9" stroke="#ff00ff" stroke-width="0.8"/><circle cx="579.8" cy="55.9" r="1" fill="#ff00ff"/>
<text x="586.9" y="57.7" font-size="5.2" font-family='"Liberation Sans", sans-serif'>36<tspan dy="-1.5" font-size="3">o</tspan><tspan dy="1.5">C</tspan></text>
<line x1="574" y1="62.9" x2="585.6" y2="62.9" stroke="#ff8000" stroke-width="0.8"/><circle cx="579.8" cy="62.9" r="1" fill="#ff8000"/>
<text x="586.9" y="64.7" font-size="5.2" font-family='"Liberation Sans", sans-serif'>38<tspan dy="-1.5" font-size="3">o</tspan><tspan dy="1.5">C</tspan></text>
<line x1="574" y1="69.9" x2="585.6" y2="69.9" stroke="#808000" stroke-width="0.8"/><circle cx="579.8" cy="69.9" r="1" fill="#808000"/>
<text x="586.9" y="71.7" font-size="5.2" font-family='"Liberation Sans", sans-serif'>40<tspan dy="-1.5" font-size="3">o</tspan><tspan dy="1.5">C</tspan></text>
<path d="M275.2 169.5 L276.71 169.76 L278.21 170 L279.72 170.19 L281.23 170.35 L282.73 170.5 L284.24 170.64 L285.75 170.76 L287.25 170.88 L288.76 170.99 L290.27 171.09 L291.77 171.17 L293.28 171.23 L294.79 171.29 L296.29 171.34 L297.8 171.39 L299.31 171.43 L300.81 171.47 L302.32 171.51 L303.83 171.55 L305.33 171.59 L306.84 171.62 L308.35 171.65 L309.86 171.69 L311.36 171.72 L312.87 171.75 L314.38 171.79 L315.88 171.82 L317.39 171.86 L318.9 171.89 L320.4 171.93 L321.91 171.96 L323.42 171.99 L324.92 172.02 L326.43 172.06 L327.94 172.09 L329.44 172.12 L330.95 172.15 L332.46 172.19 L333.96 172.22 L335.47 172.25 L336.98 172.29 L338.48 172.33 L339.99 172.36 L341.5 172.4 L343 172.43 L344.51 172.47 L346.02 172.5 L347.52 172.54 L349.03 172.57 L350.54 172.61 L352.04 172.65 L353.55 172.69 L355.06 172.74 L356.56 172.78 L358.07 172.83 L359.58 172.88 L361.08 172.94 L362.59 173 L364.1 173.07 L365.6 173.14 L367.11 173.22 L368.62 173.3 L370.12 173.39 L371.63 173.48 L373.14 173.58 L374.64 173.68 L376.15 173.79 L377.66 173.91 L379.17 174.03 L380.67 174.17 L382.18 174.32 L383.69 174.48 L385.19 174.67 L386.7 174.87 L388.21 175.12 L389.71 175.43 L391.22 175.8 L392.73 176.21 L394.23 176.65 L395.74 177.13 L397.25 177.69 L398.75 178.3 L400.26 178.94 L401.77 179.59 L403.27 180.3 L404.78 181.13 L406.29 182.16 L407.79 183.43 L409.3 185" stroke="#000" stroke-width="1.5" fill="none"/>
<path d="M275.2 168.6 L276.71 168.86 L278.21 169.1 L279.72 169.29 L281.23 169.45 L282.73 169.6 L284.24 169.74 L285.75 169.86 L287.25 169.98 L288.76 170.09 L290.27 170.19 L291.77 170.27 L293.28 170.33 L294.79 170.39 L296.29 170.44 L297.8 170.49 L299.31 170.53 L300.81 170.57 L302.32 170.61 L303.83 170.65 L305.33 170.69 L306.84 170.72 L308.35 170.75 L309.86 170.79 L311.36 170.82 L312.87 170.85 L314.38 170.89 L315.88 170.92 L317.39 170.96 L318.9 170.99 L320.4 171.03 L321.91 171.06 L323.42 171.09 L324.92 171.12 L326.43 171.16 L327.94 171.19 L329.44 171.22 L330.95 171.25 L332.46 171.29 L333.96 171.32 L335.47 171.35 L336.98 171.39 L338.48 171.43 L339.99 171.46 L341.5 171.5 L343 171.53 L344.51 171.57 L346.02 171.6 L347.52 171.64 L349.03 171.67 L350.54 171.71 L352.04 171.75 L353.55 171.79 L355.06 171.84 L356.56 171.88 L358.07 171.93 L359.58 171.98 L361.08 172.04 L362.59 172.1 L364.1 172.17 L365.6 172.24 L367.11 172.32 L368.62 172.4 L370.12 172.49 L371.63 172.58 L373.14 172.68 L374.64 172.78 L376.15 172.89 L377.66 173.01 L379.17 173.13 L380.67 173.27 L382.18 173.42 L383.69 173.58 L385.19 173.77 L386.7 173.97 L388.21 174.22 L389.71 174.53 L391.22 174.9 L392.73 175.31 L394.23 175.75 L395.74 176.23 L397.25 176.79 L398.75 177.4 L400.26 178.04 L401.77 178.69 L403.27 179.4 L404.78 180.23 L406.29 181.26 L407.79 182.53 L409.3 184.1" stroke="#000" stroke-width="1.3" stroke-dasharray="0.8 0.9" fill="none"/>
<path d="M275.2 213.5 L276.71 214.4 L278.21 215.26 L279.72 216.08 L281.22 216.88 L282.73 217.65 L284.23 218.37 L285.74 219.01 L287.24 219.61 L288.75 220.17 L290.26 220.7 L291.76 221.18 L293.27 221.62 L294.77 222.02 L296.28 222.4 L297.78 222.74 L299.29 223.06 L300.8 223.35 L302.3 223.63 L303.81 223.89 L305.31 224.12 L306.82 224.33 L308.32 224.51 L309.83 224.67 L311.33 224.82 L312.84 224.96 L314.35 225.07 L315.85 225.15 L317.36 225.24 L318.86 225.31 L320.37 225.39 L321.87 225.45 L323.38 225.51 L324.89 225.56 L326.39 225.61 L327.9 225.65 L329.4 225.69 L330.91 225.72 L332.41 225.75 L333.92 225.78 L335.42 225.81 L336.93 225.83 L338.44 225.85 L339.94 225.87 L341.45 225.89 L342.95 225.9 L344.46 225.9 L345.96 225.9 L347.47 225.88 L348.98 225.86 L350.48 225.82 L351.99 225.78 L353.49 225.74 L355 225.7 L356.5 225.66 L358.01 225.61 L359.51 225.55 L361.02 225.49 L362.53 225.42 L364.03 225.35 L365.54 225.27 L367.04 225.18 L368.55 225.09 L370.05 225 L371.56 224.89 L373.07 224.76 L374.57 224.61 L376.08 224.45 L377.58 224.28 L379.09 224.09 L380.59 223.89 L382.1 223.69 L383.6 223.46 L385.11 223.2 L386.62 222.92 L388.12 222.62 L389.63 222.3 L391.13 221.97 L392.64 221.62 L394.14 221.23 L395.65 220.82 L397.16 220.39 L398.66 219.93 L400.17 219.45 L401.67 218.93 L403.18 218.36 L404.68 217.74 L406.19 217.06 L407.69 216.28 L409.2 215.4" stroke="#0000ff" stroke-width="1.5" fill="none"/>
<path d="M275.2 212.6 L276.71 213.5 L278.21 214.36 L279.72 215.18 L281.22 215.98 L282.73 216.75 L284.23 217.47 L285.74 218.11 L287.24 218.71 L288.75 219.27 L290.26 219.8 L291.76 220.28 L293.27 220.72 L294.77 221.12 L296.28 221.5 L297.78 221.84 L299.29 222.16 L300.8 222.45 L302.3 222.73 L303.81 222.99 L305.31 223.22 L306.82 223.43 L308.32 223.61 L309.83 223.77 L311.33 223.92 L312.84 224.06 L314.35 224.17 L315.85 224.25 L317.36 224.34 L318.86 224.41 L320.37 224.49 L321.87 224.55 L323.38 224.61 L324.89 224.66 L326.39 224.71 L327.9 224.75 L329.4 224.79 L330.91 224.82 L332.41 224.85 L333.92 224.88 L335.42 224.91 L336.93 224.93 L338.44 224.95 L339.94 224.97 L341.45 224.99 L342.95 225 L344.46 225 L345.96 225 L347.47 224.98 L348.98 224.96 L350.48 224.92 L351.99 224.88 L353.49 224.84 L355 224.8 L356.5 224.76 L358.01 224.71 L359.51 224.65 L361.02 224.59 L362.53 224.52 L364.03 224.45 L365.54 224.37 L367.04 224.28 L368.55 224.19 L370.05 224.1 L371.56 223.99 L373.07 223.86 L374.57 223.71 L376.08 223.55 L377.58 223.38 L379.09 223.19 L380.59 222.99 L382.1 222.79 L383.6 222.56 L385.11 222.3 L386.62 222.02 L388.12 221.72 L389.63 221.4 L391.13 221.07 L392.64 220.72 L394.14 220.33 L395.65 219.92 L397.16 219.49 L398.66 219.03 L400.17 218.55 L401.67 218.03 L403.18 217.46 L404.68 216.84 L406.19 216.16 L407.69 215.38 L409.2 214.5" stroke="#0000ff" stroke-width="1.3" stroke-dasharray="0.8 0.9" fill="none"/>
<rect x="274.8" y="142.7" width="134.7" height="98.5" fill="none" stroke="#000" stroke-width="1.35"/>
<path d="M276.4 241.2 v2.4M320.7 241.2 v2.4M365 241.2 v2.4M409.3 241.2 v2.4" stroke="#000" stroke-width="0.8" fill="none"/>
<path d="M289.74 241.2 v1.3M297.54 241.2 v1.3M303.07 241.2 v1.3M307.36 241.2 v1.3M310.87 241.2 v1.3M313.84 241.2 v1.3M316.41 241.2 v1.3M318.67 241.2 v1.3M334.04 241.2 v1.3M341.84 241.2 v1.3M347.37 241.2 v1.3M351.66 241.2 v1.3M355.17 241.2 v1.3M358.14 241.2 v1.3M360.71 241.2 v1.3M362.97 241.2 v1.3M378.34 241.2 v1.3M386.14 241.2 v1.3M391.67 241.2 v1.3M395.96 241.2 v1.3M399.47 241.2 v1.3M402.44 241.2 v1.3M405.01 241.2 v1.3M407.27 241.2 v1.3" stroke="#000" stroke-width="0.8" fill="none"/>
<path d="M276.4 142.7 v2.4M320.7 142.7 v2.4M365 142.7 v2.4M409.3 142.7 v2.4" stroke="#000" stroke-width="0.8" fill="none"/>
<path d="M289.74 142.7 v1.3M297.54 142.7 v1.3M303.07 142.7 v1.3M307.36 142.7 v1.3M310.87 142.7 v1.3M313.84 142.7 v1.3M316.41 142.7 v1.3M318.67 142.7 v1.3M334.04 142.7 v1.3M341.84 142.7 v1.3M347.37 142.7 v1.3M351.66 142.7 v1.3M355.17 142.7 v1.3M358.14 142.7 v1.3M360.71 142.7 v1.3M362.97 142.7 v1.3M378.34 142.7 v1.3M386.14 142.7 v1.3M391.67 142.7 v1.3M395.96 142.7 v1.3M399.47 142.7 v1.3M402.44 142.7 v1.3M405.01 142.7 v1.3M407.27 142.7 v1.3" stroke="#000" stroke-width="0.8" fill="none"/>
<path d="M274.8 232.22 h-2.4M274.8 209.99 h-2.4M274.8 187.76 h-2.4M274.8 165.53 h-2.4M274.8 143.3 h-2.4" stroke="#000" stroke-width="0.8" fill="none"/>
<path d="M274.8 221.11 h-1.3M274.8 198.88 h-1.3M274.8 176.65 h-1.3M274.8 154.41 h-1.3" stroke="#000" stroke-width="0.8" fill="none"/>
<path d="M409.5 226.2 h2.4M409.5 209.46 h2.4M409.5 192.72 h2.4M409.5 175.98 h2.4M409.5 159.24 h2.4M409.5 142.5 h2.4" stroke="#000" stroke-width="0.8" fill="none"/>
<path d="M409.5 217.83 h1.3M409.5 201.09 h1.3M409.5 184.35 h1.3M409.5 167.61 h1.3M409.5 150.87 h1.3" stroke="#000" stroke-width="0.8" fill="none"/>
<text x="271.4" y="234.82" font-size="7.3" text-anchor="end" fill="#000" font-weight="normal" font-family='"Liberation Sans", sans-serif' >6.3</text>
<text x="271.4" y="212.59" font-size="7.3" text-anchor="end" fill="#000" font-weight="normal" font-family='"Liberation Sans", sans-serif' >6.4</text>
<text x="271.4" y="190.36" font-size="7.3" text-anchor="end" fill="#000" font-weight="normal" font-family='"Liberation Sans", sans-serif' >6.5</text>
<text x="271.4" y="168.13" font-size="7.3" text-anchor="end" fill="#000" font-weight="normal" font-family='"Liberation Sans", sans-serif' >6.6</text>
<text x="271.4" y="145.9" font-size="7.3" text-anchor="end" fill="#000" font-weight="normal" font-family='"Liberation Sans", sans-serif' >6.7</text>
<text x="412.9" y="228.8" font-size="7.3" text-anchor="start" fill="#000" font-weight="normal" font-family='"Liberation Sans", sans-serif' >0</text>
<text x="412.9" y="212.06" font-size="7.3" text-anchor="start" fill="#000" font-weight="normal" font-family='"Liberation Sans", sans-serif' >1</text>
<text x="412.9" y="195.32" font-size="7.3" text-anchor="start" fill="#000" font-weight="normal" font-family='"Liberation Sans", sans-serif' >2</text>
<text x="412.9" y="178.58" font-size="7.3" text-anchor="start" fill="#000" font-weight="normal" font-family='"Liberation Sans", sans-serif' >3</text>
<text x="412.9" y="161.84" font-size="7.3" text-anchor="start" fill="#000" font-weight="normal" font-family='"Liberation Sans", sans-serif' >4</text>
<text x="412.9" y="145.1" font-size="7.3" text-anchor="start" fill="#000" font-weight="normal" font-family='"Liberation Sans", sans-serif' >5</text>
<text x="275.4" y="252.6" font-size="7.0" text-anchor="middle" font-family='"Liberation Sans", sans-serif'>10<tspan dy="-2.3" font-size="4.8999999999999995">3</tspan></text>
<text x="319.7" y="252.6" font-size="7.0" text-anchor="middle" font-family='"Liberation Sans", sans-serif'>10<tspan dy="-2.3" font-size="4.8999999999999995">4</tspan></text>
<text x="364" y="252.6" font-size="7.0" text-anchor="middle" font-family='"Liberation Sans", sans-serif'>10<tspan dy="-2.3" font-size="4.8999999999999995">5</tspan></text>
<text x="408.3" y="252.6" font-size="7.0" text-anchor="middle" font-family='"Liberation Sans", sans-serif'>10<tspan dy="-2.3" font-size="4.8999999999999995">6</tspan></text>
<text x="346.2" y="261.7" font-size="11.3" text-anchor="middle" fill="#000" font-weight="normal" font-family='"Liberation Sans", sans-serif' textLength="79.6" lengthAdjust="spacingAndGlyphs">Frequency (Hz)</text>
<text transform="translate(350.6,140.8) scale(0.9,1)" font-size="12" text-anchor="middle" fill="#000" font-family='"DejaVu Sans", sans-serif' >(iii)</text>
<text x="312.8" y="153.4" font-size="6.3" text-anchor="start" fill="#000" font-weight="normal" font-family='"Liberation Sans", sans-serif' >Pure 5CB at 30<tspan dy="-2.1" font-size="4.4">o</tspan><tspan dy="2.1">C</tspan></text>
<text x="333.3" y="169" font-size="6.6" font-style="italic" font-family='"Liberation Sans", sans-serif'>ε'<tspan dy="1.6" font-size="4" font-style="normal" font-family='"DejaVu Sans", sans-serif'>⊥</tspan></text>
<text x="338.1" y="222" font-size="6.6" font-style="italic" font-family='"Liberation Sans", sans-serif'>ε''<tspan dy="1.6" font-size="4" font-style="normal" font-family='"DejaVu Sans", sans-serif'>⊥</tspan></text>
<text transform="translate(253.5,204.2) rotate(-90)" font-size="11.5" font-family='"Liberation Sans", sans-serif'>ε'<tspan dy="3.6" font-size="7.6" font-family='"DejaVu Sans", sans-serif'>⊥</tspan></text>
<text transform="translate(430.2,202.2) rotate(-90)" font-size="10.5" font-family='"Liberation Sans", sans-serif'>ε''<tspan dy="3.4" font-size="7" font-family='"DejaVu Sans", sans-serif'>⊥</tspan></text>
<path d="M480.7 234.2 L482.62 234.41 L484.53 234.61 L486.45 234.81 L488.36 234.99 L490.28 235.17 L492.19 235.33 L494.11 235.48 L496.02 235.62 L497.94 235.75 L499.85 235.86 L501.77 235.97 L503.68 236.07 L505.6 236.16 L507.52 236.26 L509.43 236.36 L511.35 236.46 L513.26 236.57 L515.18 236.69 L517.09 236.81 L519.01 236.93 L520.92 237.05 L522.84 237.17 L524.75 237.29 L526.67 237.41 L528.58 237.54 L530.5 237.66 L532.42 237.77 L534.33 237.89 L536.25 238 L538.16 238.1 L540.08 238.2 L541.99 238.3 L543.91 238.39 L545.82 238.49 L547.74 238.57 L549.65 238.66 L551.57 238.74 L553.48 238.82 L555.4 238.9" stroke="#000" stroke-width="1.0" fill="none"/>
<path d="M480.7 222.2 L483.37 222.98 L486.04 223.74 L488.72 224.48 L491.39 225.2 L494.06 225.89 L496.73 226.56 L499.4 227.21 L502.07 227.85 L504.75 228.47 L507.42 229.06 L510.09 229.62 L512.76 230.14 L515.43 230.63 L518.11 231.08 L520.78 231.52 L523.45 231.94 L526.12 232.36 L528.79 232.79 L531.46 233.22 L534.14 233.66 L536.81 234.07 L539.48 234.46 L542.15 234.82 L544.82 235.14 L547.49 235.45 L550.17 235.73 L552.84 236 L555.51 236.26 L558.18 236.51 L560.85 236.75 L563.53 236.98 L566.2 237.2 L568.87 237.4 L571.54 237.58 L574.21 237.73 L576.88 237.87 L579.56 238 L582.23 238.11 L584.9 238.2" stroke="#ff0000" stroke-width="1.0" fill="none"/>
<path d="M480.5 202.8 L483.18 204.06 L485.85 205.29 L488.53 206.49 L491.21 207.65 L493.88 208.78 L496.56 209.87 L499.24 210.93 L501.92 211.97 L504.59 212.97 L507.27 213.93 L509.95 214.85 L512.62 215.72 L515.3 216.54 L517.98 217.32 L520.65 218.09 L523.33 218.85 L526.01 219.61 L528.68 220.39 L531.36 221.19 L534.04 221.98 L536.72 222.76 L539.39 223.51 L542.07 224.22 L544.75 224.88 L547.42 225.52 L550.1 226.13 L552.78 226.72 L555.45 227.28 L558.13 227.83 L560.81 228.36 L563.48 228.87 L566.16 229.36 L568.84 229.82 L571.52 230.24 L574.19 230.63 L576.87 230.99 L579.55 231.32 L582.22 231.63 L584.9 231.9" stroke="#0000ff" stroke-width="1.0" fill="none"/>
<path d="M480.2 192.3 L482.88 192.66 L485.57 193.01 L488.25 193.37 L490.94 193.73 L493.62 194.09 L496.31 194.45 L498.99 194.82 L501.68 195.18 L504.36 195.55 L507.05 195.92 L509.73 196.29 L512.42 196.66 L515.1 197.03 L517.78 197.41 L520.47 197.8 L523.15 198.17 L525.84 198.54 L528.52 198.9 L531.21 199.25 L533.89 199.6 L536.58 199.94 L539.26 200.27 L541.95 200.59 L544.63 200.91 L547.32 201.22 L550 201.53 L552.68 201.83 L555.37 202.12 L558.05 202.41 L560.74 202.71 L563.42 203.01 L566.11 203.29 L568.79 203.55 L571.48 203.77 L574.16 203.95 L576.85 204.12 L579.53 204.27 L582.22 204.4 L584.9 204.5" stroke="#00e000" stroke-width="1.0" fill="none"/>
<path d="M480.8 162.3 L483.47 165.02 L486.14 167.65 L488.81 170.18 L491.48 172.6 L494.15 174.91 L496.82 177.11 L499.48 179.21 L502.15 181.23 L504.82 183.16 L507.49 185 L510.16 186.74 L512.83 188.32 L515.5 189.82 L518.17 191.39 L520.84 193.01 L523.51 194.63 L526.18 196.22 L528.85 197.77 L531.52 199.3 L534.18 200.79 L536.85 202.22 L539.52 203.58 L542.19 204.9 L544.86 206.17 L547.53 207.39 L550.2 208.54 L552.87 209.63 L555.54 210.68 L558.21 211.68 L560.88 212.62 L563.55 213.52 L566.22 214.38 L568.88 215.19 L571.55 215.91 L574.22 216.57 L576.89 217.18 L579.56 217.74 L582.23 218.25 L584.9 218.7" stroke="#ff00ff" stroke-width="1.0" fill="none"/>
<rect x="479.22" y="232.52" width="2.96" height="2.96" fill="#000"/>
<rect x="494.22" y="234.02" width="2.96" height="2.96" fill="#000"/>
<rect x="508.92" y="234.92" width="2.96" height="2.96" fill="#000"/>
<rect x="523.92" y="235.92" width="2.96" height="2.96" fill="#000"/>
<rect x="538.62" y="236.92" width="2.96" height="2.96" fill="#000"/>
<rect x="553.92" y="237.42" width="2.96" height="2.96" fill="#000"/>
<circle cx="480.7" cy="222.2" r="1.67" fill="#ff0000"/>
<circle cx="495.7" cy="226.2" r="1.67" fill="#ff0000"/>
<circle cx="510.4" cy="229.7" r="1.67" fill="#ff0000"/>
<circle cx="525.4" cy="231.9" r="1.67" fill="#ff0000"/>
<circle cx="540.1" cy="234.3" r="1.67" fill="#ff0000"/>
<circle cx="555.4" cy="236.3" r="1.67" fill="#ff0000"/>
<circle cx="570.1" cy="237.7" r="1.67" fill="#ff0000"/>
<circle cx="584.9" cy="238.2" r="1.67" fill="#ff0000"/>
<path d="M480.8 200.31 l1.99 3.61 h-3.99 Z" fill="#0000ff"/>
<path d="M495.7 206.51 l1.99 3.61 h-3.99 Z" fill="#0000ff"/>
<path d="M510.4 212.51 l1.99 3.61 h-3.99 Z" fill="#0000ff"/>
<path d="M525.4 216.81 l1.99 3.61 h-3.99 Z" fill="#0000ff"/>
<path d="M540.1 220.62 l1.99 3.61 h-3.99 Z" fill="#0000ff"/>
<path d="M555.4 226.31 l1.99 3.61 h-3.99 Z" fill="#0000ff"/>
<path d="M570.1 228.12 l1.99 3.61 h-3.99 Z" fill="#0000ff"/>
<path d="M584.9 229.01 l1.99 3.61 h-3.99 Z" fill="#0000ff"/>
<path d="M480.8 160.88 l1.99 -3.61 h-3.99 Z" fill="#ff00ff"/>
<path d="M495.7 177.59 l1.99 -3.61 h-3.99 Z" fill="#ff00ff"/>
<path d="M510.1 186.78 l1.99 -3.61 h-3.99 Z" fill="#ff00ff"/>
<path d="M525.4 194.49 l1.99 -3.61 h-3.99 Z" fill="#ff00ff"/>
<path d="M540.1 201.78 l1.99 -3.61 h-3.99 Z" fill="#ff00ff"/>
<path d="M555.4 215.49 l1.99 -3.61 h-3.99 Z" fill="#ff00ff"/>
<path d="M570.1 217.88 l1.99 -3.61 h-3.99 Z" fill="#ff00ff"/>
<path d="M584.9 219.88 l1.99 -3.61 h-3.99 Z" fill="#ff00ff"/>
<path d="M478.31 174.4 l3.61 -1.99 v3.99 Z" fill="#00e000"/>
<path d="M493.21 198.7 l3.61 -1.99 v3.99 Z" fill="#00e000"/>
<path d="M508.21 198.4 l3.61 -1.99 v3.99 Z" fill="#00e000"/>
<path d="M523.22 198.1 l3.61 -1.99 v3.99 Z" fill="#00e000"/>
<path d="M537.82 198.9 l3.61 -1.99 v3.99 Z" fill="#00e000"/>
<path d="M552.92 202.6 l3.61 -1.99 v3.99 Z" fill="#00e000"/>
<path d="M567.92 203.5 l3.61 -1.99 v3.99 Z" fill="#00e000"/>
<path d="M582.72 203.9 l3.61 -1.99 v3.99 Z" fill="#00e000"/>
<rect x="466" y="142.3" width="133.6" height="98.7" fill="none" stroke="#000" stroke-width="1.35"/>
<path d="M473.2 241 v2.4M510.45 241 v2.4M547.7 241 v2.4M584.95 241 v2.4" stroke="#000" stroke-width="0.8" fill="none"/>
<path d="M491.82 241 v1.3M529.08 241 v1.3M566.33 241 v1.3" stroke="#000" stroke-width="0.8" fill="none"/>
<path d="M473.2 142.3 v2.4M510.45 142.3 v2.4M547.7 142.3 v2.4M584.95 142.3 v2.4" stroke="#000" stroke-width="0.8" fill="none"/>
<path d="M491.82 142.3 v1.3M529.08 142.3 v1.3M566.33 142.3 v1.3" stroke="#000" stroke-width="0.8" fill="none"/>
<path d="M466 240.2 h-2.4M466 215.75 h-2.4M466 191.3 h-2.4M466 166.85 h-2.4M466 142.4 h-2.4" stroke="#000" stroke-width="0.8" fill="none"/>
<path d="M466 227.97 h-1.3M466 203.52 h-1.3M466 179.07 h-1.3M466 154.62 h-1.3" stroke="#000" stroke-width="0.8" fill="none"/>
<path d="M599.6 240.2 h-2.4M599.6 215.75 h-2.4M599.6 191.3 h-2.4M599.6 166.85 h-2.4" stroke="#000" stroke-width="0.8" fill="none"/>
<path d="M599.6 227.97 h-1.3M599.6 203.52 h-1.3M599.6 179.07 h-1.3M599.6 154.62 h-1.3" stroke="#000" stroke-width="0.8" fill="none"/>
<text x="462.4" y="242.5" font-size="6.5" text-anchor="end" fill="#000" font-weight="normal" font-family='"Liberation Sans", sans-serif' >0</text>
<text x="462.4" y="218.05" font-size="6.5" text-anchor="end" fill="#000" font-weight="normal" font-family='"Liberation Sans", sans-serif' >100</text>
<text x="462.4" y="193.6" font-size="6.5" text-anchor="end" fill="#000" font-weight="normal" font-family='"Liberation Sans", sans-serif' >200</text>
<text x="462.4" y="169.15" font-size="6.5" text-anchor="end" fill="#000" font-weight="normal" font-family='"Liberation Sans", sans-serif' >300</text>
<text x="462.4" y="144.7" font-size="6.5" text-anchor="end" fill="#000" font-weight="normal" font-family='"Liberation Sans", sans-serif' >400</text>
<text x="473.2" y="250.4" font-size="6.6" text-anchor="middle" fill="#000" font-weight="normal" font-family='"Liberation Sans", sans-serif' >25</text>
<text x="510.45" y="250.4" font-size="6.6" text-anchor="middle" fill="#000" font-weight="normal" font-family='"Liberation Sans", sans-serif' >30</text>
<text x="547.7" y="250.4" font-size="6.6" text-anchor="middle" fill="#000" font-weight="normal" font-family='"Liberation Sans", sans-serif' >35</text>
<text x="584.95" y="250.4" font-size="6.6" text-anchor="middle" fill="#000" font-weight="normal" font-family='"Liberation Sans", sans-serif' >40</text>
<text x="533" y="262.6" font-size="11.5" text-anchor="middle" fill="#000" font-weight="normal" font-family='"Liberation Sans", sans-serif' textLength="88.6" lengthAdjust="spacingAndGlyphs">Temperature (<tspan dy="-3.4" font-size="6.8">o</tspan><tspan dy="3.4">C)</tspan></text>
<text transform="translate(530.8,139.9) scale(0.9,1)" font-size="12" text-anchor="middle" fill="#000" font-family='"DejaVu Sans", sans-serif' >(iv)</text>
<text x="499" y="151.8" font-size="7.0" text-anchor="start" fill="#000" font-weight="normal" font-family='"Liberation Sans", sans-serif' >(GO-A) +5CB</text>
<text transform="translate(446.6,213.6) rotate(-90)" font-size="11.8" font-family='"Liberation Sans", sans-serif'>f<tspan dy="2.8" font-size="7.6">R</tspan><tspan dy="-2.8"> (kHz)</tspan></text>
<rect x="550.6" y="144" width="49.6" height="56.2" fill="#000"/>
<rect x="549.2" y="142.6" width="49" height="56" fill="#fff" stroke="#555" stroke-width="0.5"/>
<rect x="559.47" y="155.47" width="2.26" height="2.26" fill="#000"/>
<text x="570" y="159.1" font-size="7.0" text-anchor="start" fill="#000" font-weight="normal" font-family='"Liberation Sans", sans-serif' >0.4wt.%</text>
<circle cx="560.6" cy="165.38" r="1.28" fill="#ff0000"/>
<text x="570" y="167.88" font-size="7.0" text-anchor="start" fill="#000" font-weight="normal" font-family='"Liberation Sans", sans-serif' >0.6wt.%</text>
<path d="M560.6 172.49 l1.52 2.75 h-3.04 Z" fill="#0000ff"/>
<text x="570" y="176.66" font-size="7.0" text-anchor="start" fill="#000" font-weight="normal" font-family='"Liberation Sans", sans-serif' >0.8wt.%</text>
<path d="M560.6 184.61 l1.52 -2.75 h-3.04 Z" fill="#ff00ff"/>
<text x="570" y="185.44" font-size="7.0" text-anchor="start" fill="#000" font-weight="normal" font-family='"Liberation Sans", sans-serif' >1.0wt.%</text>
<path d="M558.93 191.72 l2.75 -1.52 v3.04 Z" fill="#00e000"/>
<text x="570" y="194.22" font-size="7.0" text-anchor="start" fill="#000" font-weight="normal" font-family='"Liberation Sans", sans-serif' >3.0wt.%</text>
</svg></body></html>
